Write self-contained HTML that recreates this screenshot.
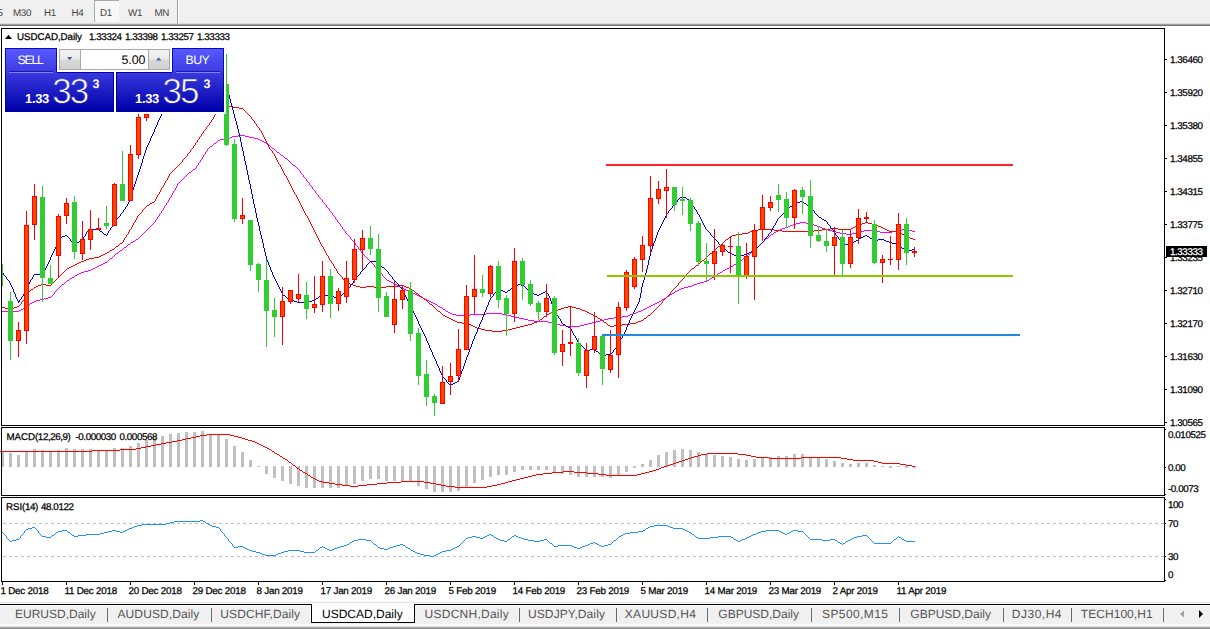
<!DOCTYPE html>
<html><head><meta charset="utf-8"><title>USDCAD,Daily</title>
<style>
html,body{margin:0;padding:0;background:#fff;}
body{width:1210px;height:629px;position:relative;overflow:hidden;font-family:"Liberation Sans",sans-serif;font-size:9px;color:#000;text-rendering:geometricPrecision;}
.a{position:absolute;white-space:nowrap;line-height:1;}
.t{position:absolute;white-space:nowrap;line-height:10px;height:10px;font-size:9.8px;letter-spacing:-0.42px;-webkit-text-stroke:0.25px #000;}
.l{letter-spacing:-0.08px;}
.bk{position:absolute;background:#000;}
.tb{position:absolute;top:0;height:24px;line-height:27px;font-size:9.8px;letter-spacing:-0.3px;color:#444;white-space:nowrap;}
.tab{position:absolute;top:608px;font-size:12px;line-height:13px;color:#555;white-space:nowrap;}
.sep{position:absolute;top:608px;width:1px;height:14px;background:#6a6a6a;}
.ax{position:absolute;left:1170px;font-size:9.8px;line-height:10px;height:10px;white-space:nowrap;letter-spacing:-0.42px;-webkit-text-stroke:0.25px #000;}
.tk{position:absolute;left:1165px;width:2px;height:1px;background:#000;}
</style></head><body>

<div class="a" style="left:0;top:0;width:1210px;height:24px;background:#f0f0f0"></div>
<div class="a" style="left:0;top:23px;width:1210px;height:1px;background:#dcdcdc"></div>
<div class="a" style="left:0;top:24px;width:1210px;height:1px;background:#a0a0a0"></div>
<div class="a" style="left:0;top:25px;width:1210px;height:1px;background:#707070"></div>
<div class="a" style="left:94px;top:0;width:25px;height:22px;background:repeating-conic-gradient(#ffffff 0% 25%, #f0f0f0 0% 50%) 0 0/2px 2px;border-left:1px solid #a8a8a8;border-top:1px solid #a8a8a8;box-sizing:border-box"></div>
<div class="a" style="left:177px;top:0;width:1px;height:24px;background:#a0a0a0"></div><div class="a" style="left:178px;top:0;width:1px;height:24px;background:#fff"></div>
<div class="tb" style="left:-2.5px">5</div>
<div class="tb" style="left:13.0px">M30</div>
<div class="tb" style="left:44.0px">H1</div>
<div class="tb" style="left:71.5px">H4</div>
<div class="tb" style="left:100.0px">D1</div>
<div class="tb" style="left:128.0px">W1</div>
<div class="tb" style="left:154.5px">MN</div>
<svg width="1164" height="629" viewBox="0 0 1164 629" style="position:absolute;left:0;top:0">
<path d="M147 229h1v1h-1zM343 229h1v1h-1zM780 229h2v1h-2zM825 229h3v1h-3zM902 229h6v1h-6zM59 287h1v1h-1zM400 287h2v1h-2zM684 287h4v1h-4zM95 267h2v1h-2zM375 267h1v1h-1zM729 267h2v1h-2zM160 213h1v1h-1zM332 213h1v1h-1zM238 135h7v1h-7zM456 315h14v1h-14zM507 315h4v1h-4zM628 315h2v1h-2zM151 225h1v1h-1zM340 225h1v1h-1zM790 225h3v1h-3zM814 225h3v1h-3zM144 232h1v1h-1zM345 232h1v1h-1zM774 232h2v1h-2zM836 232h4v1h-4zM856 232h4v1h-4zM880 232h12v1h-12zM124 247h2v1h-2zM358 247h1v1h-1zM757 247h1v1h-1zM115 254h1v1h-1zM363 254h1v1h-1zM748 254h2v1h-2zM110 258h2v1h-2zM367 258h1v1h-1zM743 258h1v1h-1zM143 233h1v1h-1zM346 233h1v1h-1zM773 233h1v1h-1zM840 233h6v1h-6zM852 233h4v1h-4zM136 239h2v1h-2zM351 239h1v1h-1zM765 239h1v1h-1zM93 268h2v1h-2zM376 268h1v1h-1zM727 268h2v1h-2zM157 217h1v1h-1zM335 217h1v1h-1zM156 219h1v1h-1zM336 219h1v1h-1zM119 251h1v1h-1zM361 251h1v1h-1zM752 251h2v1h-2zM114 255h1v1h-1zM364 255h1v1h-1zM747 255h1v1h-1zM560 325h6v1h-6zM580 325h4v1h-4zM232 136h6v1h-6zM245 136h4v1h-4zM142 234h1v1h-1zM347 234h1v1h-1zM771 234h2v1h-2zM846 234h6v1h-6zM65 282h1v1h-1zM391 282h2v1h-2zM700 282h4v1h-4zM118 252h1v1h-1zM361 252h1v1h-1zM751 252h1v1h-1zM53 294h1v1h-1zM415 294h2v1h-2zM670 294h2v1h-2zM107 261h1v1h-1zM370 261h1v1h-1zM739 261h1v1h-1zM153 223h1v1h-1zM339 223h1v1h-1zM796 223h4v1h-4zM806 223h6v1h-6zM40 299h4v1h-4zM425 299h2v1h-2zM662 299h2v1h-2zM103 263h2v1h-2zM372 263h1v1h-1zM736 263h2v1h-2zM534 321h14v1h-14zM596 321h4v1h-4zM452 314h4v1h-4zM470 314h16v1h-16zM502 314h5v1h-5zM630 314h3v1h-3zM209 147h1v1h-1zM271 147h1v1h-1zM515 317h4v1h-4zM614 317h8v1h-8zM169 199h1v1h-1zM321 199h1v1h-1zM36 300h4v1h-4zM427 300h2v1h-2zM661 300h1v1h-1zM177 185h1v1h-1zM310 185h1v1h-1zM55 291h1v1h-1zM409 291h2v1h-2zM675 291h2v1h-2zM51 296h1v1h-1zM419 296h2v1h-2zM667 296h2v1h-2zM548 322h4v1h-4zM592 322h4v1h-4zM552 323h4v1h-4zM588 323h4v1h-4zM2 311h17v1h-17zM446 311h2v1h-2zM638 311h3v1h-3zM220 139h4v1h-4zM258 139h2v1h-2zM192 170h1v1h-1zM299 170h1v1h-1zM81 272h3v1h-3zM380 272h1v1h-1zM720 272h2v1h-2zM126 246h1v1h-1zM357 246h1v1h-1zM758 246h1v1h-1zM193 169h2v1h-2zM298 169h1v1h-1zM450 313h2v1h-2zM486 313h16v1h-16zM633 313h3v1h-3zM157 218h1v1h-1zM335 218h1v1h-1zM146 230h1v1h-1zM344 230h1v1h-1zM778 230h2v1h-2zM828 230h4v1h-4zM864 230h12v1h-12zM896 230h6v1h-6zM908 230h4v1h-4zM72 277h2v1h-2zM384 277h1v1h-1zM712 277h2v1h-2zM196 167h1v1h-1zM296 167h1v1h-1zM123 248h1v1h-1zM358 248h1v1h-1zM756 248h1v1h-1zM23 308h2v1h-2zM442 308h1v1h-1zM645 308h2v1h-2zM44 298h4v1h-4zM423 298h2v1h-2zM664 298h2v1h-2zM145 231h1v1h-1zM345 231h1v1h-1zM776 231h2v1h-2zM832 231h4v1h-4zM860 231h4v1h-4zM876 231h4v1h-4zM892 231h4v1h-4zM912 231h3v1h-3zM128 244h2v1h-2zM355 244h1v1h-1zM760 244h1v1h-1zM173 192h1v1h-1zM315 192h1v1h-1zM91 269h2v1h-2zM377 269h1v1h-1zM725 269h2v1h-2zM566 326h14v1h-14zM77 274h2v1h-2zM382 274h1v1h-1zM717 274h1v1h-1zM21 309h2v1h-2zM443 309h2v1h-2zM643 309h2v1h-2zM148 228h1v1h-1zM342 228h1v1h-1zM782 228h3v1h-3zM822 228h3v1h-3zM74 276h1v1h-1zM383 276h1v1h-1zM714 276h1v1h-1zM133 241h2v1h-2zM353 241h1v1h-1zM763 241h1v1h-1zM88 270h3v1h-3zM378 270h1v1h-1zM723 270h2v1h-2zM528 320h6v1h-6zM600 320h4v1h-4zM200 160h1v1h-1zM288 160h1v1h-1zM29 304h1v1h-1zM435 304h2v1h-2zM653 304h2v1h-2zM203 156h1v1h-1zM283 156h1v1h-1zM150 226h1v1h-1zM341 226h1v1h-1zM788 226h2v1h-2zM817 226h3v1h-3zM122 249h1v1h-1zM359 249h1v1h-1zM755 249h1v1h-1zM61 285h1v1h-1zM397 285h1v1h-1zM692 285h2v1h-2zM34 301h2v1h-2zM429 301h2v1h-2zM659 301h2v1h-2zM524 319h4v1h-4zM604 319h4v1h-4zM138 238h1v1h-1zM350 238h1v1h-1zM766 238h2v1h-2zM208 148h1v1h-1zM272 148h2v1h-2zM519 318h5v1h-5zM608 318h6v1h-6zM32 302h2v1h-2zM431 302h2v1h-2zM657 302h2v1h-2zM70 278h2v1h-2zM385 278h1v1h-1zM710 278h2v1h-2zM64 283h1v1h-1zM393 283h2v1h-2zM697 283h3v1h-3zM152 224h1v1h-1zM340 224h1v1h-1zM793 224h3v1h-3zM812 224h2v1h-2zM166 203h1v1h-1zM324 203h1v1h-1zM210 146h2v1h-2zM270 146h1v1h-1zM75 275h2v1h-2zM382 275h1v1h-1zM715 275h2v1h-2zM69 279h1v1h-1zM386 279h1v1h-1zM709 279h1v1h-1zM62 284h2v1h-2zM395 284h2v1h-2zM694 284h3v1h-3zM214 143h2v1h-2zM266 143h1v1h-1zM201 159h1v1h-1zM287 159h1v1h-1zM196 166h1v1h-1zM295 166h1v1h-1zM178 183h1v1h-1zM309 183h1v1h-1zM448 312h2v1h-2zM636 312h2v1h-2zM66 281h1v1h-1zM389 281h2v1h-2zM704 281h3v1h-3zM230 137h2v1h-2zM249 137h5v1h-5zM175 188h1v1h-1zM312 188h1v1h-1zM58 288h1v1h-1zM402 288h2v1h-2zM681 288h3v1h-3zM57 289h1v1h-1zM404 289h2v1h-2zM679 289h2v1h-2zM141 235h1v1h-1zM348 235h1v1h-1zM770 235h1v1h-1zM175 189h1v1h-1zM313 189h1v1h-1zM180 181h1v1h-1zM307 181h1v1h-1zM167 202h1v1h-1zM323 202h1v1h-1zM203 155h1v1h-1zM281 155h2v1h-2zM30 303h2v1h-2zM433 303h2v1h-2zM655 303h2v1h-2zM97 266h2v1h-2zM374 266h1v1h-1zM731 266h2v1h-2zM139 237h1v1h-1zM350 237h1v1h-1zM768 237h1v1h-1zM26 306h2v1h-2zM438 306h2v1h-2zM649 306h2v1h-2zM28 305h1v1h-1zM437 305h1v1h-1zM651 305h2v1h-2zM154 222h1v1h-1zM338 222h1v1h-1zM800 222h6v1h-6zM120 250h2v1h-2zM360 250h1v1h-1zM754 250h1v1h-1zM556 324h4v1h-4zM584 324h4v1h-4zM199 162h1v1h-1zM290 162h1v1h-1zM218 140h2v1h-2zM260 140h2v1h-2zM158 216h1v1h-1zM334 216h1v1h-1zM101 264h2v1h-2zM373 264h1v1h-1zM734 264h2v1h-2zM213 144h1v1h-1zM267 144h2v1h-2zM187 174h1v1h-1zM302 174h1v1h-1zM511 316h4v1h-4zM622 316h6v1h-6zM56 290h1v1h-1zM406 290h3v1h-3zM677 290h2v1h-2zM54 292h1v1h-1zM411 292h2v1h-2zM674 292h1v1h-1zM163 208h1v1h-1zM328 208h1v1h-1zM206 151h1v1h-1zM276 151h1v1h-1zM176 187h1v1h-1zM312 187h1v1h-1zM140 236h1v1h-1zM349 236h1v1h-1zM769 236h1v1h-1zM84 271h4v1h-4zM379 271h1v1h-1zM722 271h1v1h-1zM191 171h1v1h-1zM300 171h1v1h-1zM99 265h2v1h-2zM374 265h1v1h-1zM733 265h1v1h-1zM197 165h1v1h-1zM293 165h2v1h-2zM60 286h1v1h-1zM398 286h2v1h-2zM688 286h4v1h-4zM159 215h1v1h-1zM333 215h1v1h-1zM202 158h1v1h-1zM285 158h2v1h-2zM216 142h1v1h-1zM264 142h2v1h-2zM116 253h2v1h-2zM362 253h1v1h-1zM750 253h1v1h-1zM224 138h6v1h-6zM254 138h4v1h-4zM189 172h2v1h-2zM300 172h1v1h-1zM105 262h2v1h-2zM371 262h1v1h-1zM738 262h1v1h-1zM155 221h1v1h-1zM337 221h1v1h-1zM25 307h1v1h-1zM440 307h2v1h-2zM647 307h2v1h-2zM149 227h1v1h-1zM342 227h1v1h-1zM785 227h3v1h-3zM820 227h2v1h-2zM164 207h1v1h-1zM327 207h1v1h-1zM188 173h1v1h-1zM301 173h1v1h-1zM109 259h1v1h-1zM368 259h1v1h-1zM742 259h1v1h-1zM48 297h3v1h-3zM421 297h2v1h-2zM666 297h1v1h-1zM67 280h2v1h-2zM387 280h2v1h-2zM707 280h2v1h-2zM172 193h1v1h-1zM316 193h1v1h-1zM168 200h1v1h-1zM322 200h1v1h-1zM195 168h1v1h-1zM297 168h1v1h-1zM198 164h1v1h-1zM292 164h1v1h-1zM217 141h1v1h-1zM262 141h2v1h-2zM131 242h2v1h-2zM354 242h1v1h-1zM762 242h1v1h-1zM164 206h1v1h-1zM326 206h1v1h-1zM159 214h1v1h-1zM332 214h1v1h-1zM182 179h1v1h-1zM306 179h1v1h-1zM202 157h1v1h-1zM284 157h1v1h-1zM19 310h2v1h-2zM445 310h1v1h-1zM641 310h2v1h-2zM155 220h1v1h-1zM337 220h1v1h-1zM205 152h1v1h-1zM277 152h2v1h-2zM200 161h1v1h-1zM289 161h1v1h-1zM174 190h1v1h-1zM314 190h1v1h-1zM173 191h1v1h-1zM315 191h1v1h-1zM162 210h1v1h-1zM329 210h1v1h-1zM185 176h1v1h-1zM303 176h1v1h-1zM207 149h1v1h-1zM274 149h1v1h-1zM184 177h1v1h-1zM304 177h1v1h-1zM205 153h1v1h-1zM279 153h1v1h-1zM108 260h1v1h-1zM369 260h1v1h-1zM740 260h2v1h-2zM113 256h1v1h-1zM365 256h1v1h-1zM746 256h1v1h-1zM177 184h1v1h-1zM309 184h1v1h-1zM166 204h1v1h-1zM325 204h1v1h-1zM54 293h1v1h-1zM413 293h2v1h-2zM672 293h2v1h-2zM165 205h1v1h-1zM326 205h1v1h-1zM186 175h1v1h-1zM303 175h1v1h-1zM79 273h2v1h-2zM381 273h1v1h-1zM718 273h2v1h-2zM169 198h1v1h-1zM320 198h1v1h-1zM172 194h1v1h-1zM317 194h1v1h-1zM212 145h1v1h-1zM269 145h1v1h-1zM171 196h1v1h-1zM318 196h1v1h-1zM161 212h1v1h-1zM331 212h1v1h-1zM130 243h1v1h-1zM355 243h1v1h-1zM761 243h1v1h-1zM168 201h1v1h-1zM322 201h1v1h-1zM52 295h1v1h-1zM417 295h2v1h-2zM669 295h1v1h-1zM181 180h1v1h-1zM306 180h1v1h-1zM135 240h1v1h-1zM352 240h1v1h-1zM764 240h1v1h-1zM161 211h1v1h-1zM330 211h1v1h-1zM112 257h1v1h-1zM366 257h1v1h-1zM744 257h2v1h-2zM204 154h1v1h-1zM280 154h1v1h-1zM198 163h1v1h-1zM291 163h1v1h-1zM176 186h1v1h-1zM311 186h1v1h-1zM179 182h1v1h-1zM308 182h1v1h-1zM183 178h1v1h-1zM305 178h1v1h-1zM170 197h1v1h-1zM319 197h1v1h-1zM207 150h1v1h-1zM275 150h1v1h-1zM127 245h1v1h-1zM356 245h1v1h-1zM759 245h1v1h-1zM171 195h1v1h-1zM318 195h1v1h-1zM163 209h1v1h-1zM329 209h1v1h-1z" fill="#ff00ff" shape-rendering="crispEdges"/>
<path d="M34 287h2v1h-2zM360 287h6v1h-6zM374 287h12v1h-12zM406 287h3v1h-3zM675 287h1v1h-1zM36 286h2v1h-2zM356 286h4v1h-4zM366 286h8v1h-8zM386 286h12v1h-12zM404 286h2v1h-2zM676 286h1v1h-1zM170 173h1v1h-1zM284 173h1v1h-1zM471 325h2v1h-2zM524 325h4v1h-4zM608 325h2v1h-2zM614 325h8v1h-8zM139 214h1v1h-1zM305 214h1v1h-1zM130 229h1v1h-1zM313 229h1v1h-1zM758 229h16v1h-16zM822 229h8v1h-8zM838 229h13v1h-13zM885 229h2v1h-2zM485 330h7v1h-7zM502 330h6v1h-6zM128 233h1v1h-1zM315 233h1v1h-1zM742 233h6v1h-6zM901 233h1v1h-1zM144 208h1v1h-1zM302 208h1v1h-1zM75 264h2v1h-2zM333 264h1v1h-1zM698 264h1v1h-1zM28 293h1v1h-1zM416 293h2v1h-2zM670 293h1v1h-1zM60 275h1v1h-1zM340 275h1v1h-1zM686 275h1v1h-1zM196 142h1v1h-1zM266 142h1v1h-1zM21 302h1v1h-1zM428 302h1v1h-1zM662 302h1v1h-1zM449 318h2v1h-2zM542 318h1v1h-1zM598 318h2v1h-2zM644 318h2v1h-2zM84 260h2v1h-2zM330 260h1v1h-1zM702 260h2v1h-2zM193 147h1v1h-1zM269 147h1v1h-1zM129 230h1v1h-1zM314 230h1v1h-1zM753 230h5v1h-5zM774 230h8v1h-8zM814 230h8v1h-8zM887 230h2v1h-2zM173 170h1v1h-1zM282 170h1v1h-1zM129 231h1v1h-1zM314 231h1v1h-1zM750 231h3v1h-3zM782 231h32v1h-32zM889 231h10v1h-10zM30 290h1v1h-1zM412 290h2v1h-2zM672 290h1v1h-1zM213 117h1v1h-1zM251 117h1v1h-1zM142 210h1v1h-1zM303 210h1v1h-1zM438 311h2v1h-2zM553 311h3v1h-3zM585 311h2v1h-2zM653 311h1v1h-1zM107 252h2v1h-2zM325 252h1v1h-1zM712 252h1v1h-1zM101 255h2v1h-2zM327 255h1v1h-1zM708 255h1v1h-1zM445 316h2v1h-2zM544 316h2v1h-2zM595 316h2v1h-2zM647 316h1v1h-1zM124 239h1v1h-1zM318 239h1v1h-1zM726 239h2v1h-2zM913 239h2v1h-2zM201 134h1v1h-1zM262 134h1v1h-1zM455 321h2v1h-2zM537 321h2v1h-2zM603 321h1v1h-1zM638 321h3v1h-3zM38 285h3v1h-3zM46 285h5v1h-5zM353 285h3v1h-3zM398 285h6v1h-6zM677 285h1v1h-1zM209 123h1v1h-1zM255 123h1v1h-1zM120 243h2v1h-2zM320 243h1v1h-1zM722 243h1v1h-1zM2 307h3v1h-3zM14 307h3v1h-3zM434 307h1v1h-1zM564 307h4v1h-4zM572 307h4v1h-4zM657 307h1v1h-1zM441 313h1v1h-1zM549 313h2v1h-2zM589 313h2v1h-2zM651 313h1v1h-1zM41 284h5v1h-5zM51 284h1v1h-1zM350 284h3v1h-3zM678 284h1v1h-1zM126 236h1v1h-1zM317 236h1v1h-1zM730 236h2v1h-2zM906 236h2v1h-2zM26 296h1v1h-1zM420 296h2v1h-2zM667 296h1v1h-1zM137 216h1v1h-1zM307 216h1v1h-1zM89 258h5v1h-5zM329 258h1v1h-1zM705 258h1v1h-1zM54 281h1v1h-1zM345 281h1v1h-1zM680 281h1v1h-1zM122 242h1v1h-1zM320 242h1v1h-1zM723 242h1v1h-1zM5 308h9v1h-9zM435 308h1v1h-1zM561 308h3v1h-3zM576 308h4v1h-4zM656 308h1v1h-1zM167 178h1v1h-1zM287 178h1v1h-1zM126 235h1v1h-1zM316 235h1v1h-1zM732 235h4v1h-4zM904 235h2v1h-2zM136 219h1v1h-1zM308 219h1v1h-1zM457 322h5v1h-5zM534 322h3v1h-3zM604 322h2v1h-2zM636 322h2v1h-2zM177 166h1v1h-1zM280 166h1v1h-1zM185 157h1v1h-1zM275 157h1v1h-1zM209 124h1v1h-1zM256 124h1v1h-1zM127 234h1v1h-1zM316 234h1v1h-1zM736 234h6v1h-6zM902 234h2v1h-2zM135 220h1v1h-1zM309 220h1v1h-1zM132 226h1v1h-1zM312 226h1v1h-1zM855 226h2v1h-2zM878 226h3v1h-3zM197 140h1v1h-1zM265 140h1v1h-1zM133 223h1v1h-1zM310 223h1v1h-1zM862 223h3v1h-3zM868 223h4v1h-4zM440 312h1v1h-1zM551 312h2v1h-2zM587 312h2v1h-2zM652 312h1v1h-1zM105 253h2v1h-2zM326 253h1v1h-1zM710 253h2v1h-2zM52 283h1v1h-1zM348 283h2v1h-2zM678 283h1v1h-1zM125 237h1v1h-1zM317 237h1v1h-1zM729 237h1v1h-1zM908 237h2v1h-2zM210 122h1v1h-1zM254 122h1v1h-1zM71 266h2v1h-2zM334 266h1v1h-1zM695 266h1v1h-1zM453 320h2v1h-2zM539 320h1v1h-1zM602 320h1v1h-1zM641 320h2v1h-2zM140 213h1v1h-1zM305 213h1v1h-1zM188 153h1v1h-1zM273 153h1v1h-1zM99 256h2v1h-2zM328 256h1v1h-1zM707 256h1v1h-1zM204 130h1v1h-1zM260 130h1v1h-1zM103 254h2v1h-2zM326 254h1v1h-1zM709 254h1v1h-1zM69 267h2v1h-2zM334 267h1v1h-1zM694 267h1v1h-1zM462 323h6v1h-6zM532 323h2v1h-2zM606 323h1v1h-1zM630 323h6v1h-6zM145 207h1v1h-1zM302 207h1v1h-1zM216 113h1v1h-1zM247 113h1v1h-1zM443 315h2v1h-2zM546 315h1v1h-1zM593 315h2v1h-2zM648 315h2v1h-2zM114 248h1v1h-1zM323 248h1v1h-1zM716 248h1v1h-1zM55 280h1v1h-1zM344 280h1v1h-1zM681 280h1v1h-1zM33 288h1v1h-1zM409 288h2v1h-2zM674 288h1v1h-1zM65 270h1v1h-1zM336 270h1v1h-1zM690 270h1v1h-1zM220 110h1v1h-1zM244 110h1v1h-1zM64 271h1v1h-1zM337 271h1v1h-1zM689 271h1v1h-1zM477 328h4v1h-4zM512 328h4v1h-4zM25 298h1v1h-1zM423 298h1v1h-1zM665 298h1v1h-1zM123 241h1v1h-1zM319 241h1v1h-1zM724 241h1v1h-1zM492 331h10v1h-10zM475 327h2v1h-2zM516 327h4v1h-4zM112 249h2v1h-2zM324 249h1v1h-1zM715 249h1v1h-1zM131 228h1v1h-1zM313 228h1v1h-1zM830 228h8v1h-8zM851 228h2v1h-2zM883 228h2v1h-2zM224 107h4v1h-4zM233 107h6v1h-6zM124 238h1v1h-1zM318 238h1v1h-1zM728 238h1v1h-1zM910 238h3v1h-3zM81 261h3v1h-3zM331 261h1v1h-1zM701 261h1v1h-1zM134 222h1v1h-1zM310 222h1v1h-1zM865 222h3v1h-3zM468 324h3v1h-3zM528 324h4v1h-4zM607 324h1v1h-1zM622 324h8v1h-8zM24 299h1v1h-1zM424 299h2v1h-2zM664 299h1v1h-1zM436 309h1v1h-1zM558 309h3v1h-3zM580 309h2v1h-2zM655 309h1v1h-1zM172 171h1v1h-1zM283 171h1v1h-1zM62 273h1v1h-1zM338 273h1v1h-1zM687 273h1v1h-1zM168 176h1v1h-1zM286 176h1v1h-1zM29 291h1v1h-1zM414 291h1v1h-1zM671 291h1v1h-1zM442 314h1v1h-1zM547 314h2v1h-2zM591 314h2v1h-2zM650 314h1v1h-1zM473 326h2v1h-2zM520 326h4v1h-4zM610 326h4v1h-4zM183 159h1v1h-1zM276 159h1v1h-1zM437 310h1v1h-1zM556 310h2v1h-2zM582 310h3v1h-3zM654 310h1v1h-1zM179 164h1v1h-1zM279 164h1v1h-1zM19 305h1v1h-1zM432 305h1v1h-1zM659 305h1v1h-1zM136 218h1v1h-1zM308 218h1v1h-1zM194 145h1v1h-1zM268 145h1v1h-1zM110 250h2v1h-2zM324 250h1v1h-1zM714 250h1v1h-1zM56 279h1v1h-1zM343 279h1v1h-1zM682 279h1v1h-1zM86 259h3v1h-3zM329 259h1v1h-1zM704 259h1v1h-1zM189 152h1v1h-1zM272 152h1v1h-1zM63 272h1v1h-1zM337 272h1v1h-1zM688 272h1v1h-1zM67 268h2v1h-2zM335 268h1v1h-1zM692 268h2v1h-2zM211 120h1v1h-1zM253 120h1v1h-1zM146 206h1v1h-1zM301 206h1v1h-1zM180 163h1v1h-1zM278 163h1v1h-1zM73 265h2v1h-2zM333 265h1v1h-1zM696 265h2v1h-2zM211 121h1v1h-1zM254 121h1v1h-1zM481 329h4v1h-4zM508 329h4v1h-4zM198 139h1v1h-1zM265 139h1v1h-1zM128 232h1v1h-1zM315 232h1v1h-1zM748 232h2v1h-2zM899 232h2v1h-2zM94 257h5v1h-5zM328 257h1v1h-1zM706 257h1v1h-1zM133 224h1v1h-1zM311 224h1v1h-1zM860 224h2v1h-2zM872 224h4v1h-4zM116 246h2v1h-2zM322 246h1v1h-1zM718 246h2v1h-2zM20 304h1v1h-1zM430 304h2v1h-2zM660 304h1v1h-1zM109 251h1v1h-1zM325 251h1v1h-1zM713 251h1v1h-1zM132 225h1v1h-1zM311 225h1v1h-1zM857 225h3v1h-3zM876 225h2v1h-2zM77 263h2v1h-2zM332 263h1v1h-1zM699 263h1v1h-1zM141 212h1v1h-1zM304 212h1v1h-1zM191 149h1v1h-1zM270 149h1v1h-1zM174 169h1v1h-1zM282 169h1v1h-1zM22 301h1v1h-1zM427 301h1v1h-1zM662 301h1v1h-1zM200 136h1v1h-1zM263 136h1v1h-1zM203 132h1v1h-1zM261 132h1v1h-1zM217 112h1v1h-1zM246 112h1v1h-1zM195 144h1v1h-1zM267 144h1v1h-1zM212 119h1v1h-1zM252 119h1v1h-1zM142 211h1v1h-1zM304 211h1v1h-1zM199 138h1v1h-1zM264 138h1v1h-1zM184 158h1v1h-1zM276 158h1v1h-1zM207 126h1v1h-1zM257 126h1v1h-1zM27 295h1v1h-1zM419 295h1v1h-1zM668 295h1v1h-1zM149 204h1v1h-1zM300 204h1v1h-1zM123 240h1v1h-1zM319 240h1v1h-1zM725 240h1v1h-1zM451 319h2v1h-2zM540 319h2v1h-2zM600 319h2v1h-2zM643 319h1v1h-1zM160 191h1v1h-1zM293 191h1v1h-1zM131 227h1v1h-1zM312 227h1v1h-1zM853 227h2v1h-2zM881 227h2v1h-2zM163 185h1v1h-1zM290 185h1v1h-1zM147 205h2v1h-2zM301 205h1v1h-1zM447 317h2v1h-2zM543 317h1v1h-1zM597 317h1v1h-1zM646 317h1v1h-1zM175 168h1v1h-1zM281 168h1v1h-1zM181 162h1v1h-1zM278 162h1v1h-1zM176 167h1v1h-1zM281 167h1v1h-1zM152 202h2v1h-2zM299 202h1v1h-1zM190 150h1v1h-1zM271 150h1v1h-1zM222 108h2v1h-2zM239 108h4v1h-4zM187 155h1v1h-1zM274 155h1v1h-1zM17 306h2v1h-2zM433 306h1v1h-1zM568 306h4v1h-4zM658 306h1v1h-1zM143 209h1v1h-1zM303 209h1v1h-1zM203 131h1v1h-1zM261 131h1v1h-1zM115 247h1v1h-1zM323 247h1v1h-1zM717 247h1v1h-1zM159 192h1v1h-1zM294 192h1v1h-1zM195 143h1v1h-1zM267 143h1v1h-1zM186 156h1v1h-1zM275 156h1v1h-1zM215 114h1v1h-1zM248 114h1v1h-1zM25 297h1v1h-1zM422 297h1v1h-1zM666 297h1v1h-1zM199 137h1v1h-1zM264 137h1v1h-1zM66 269h1v1h-1zM336 269h1v1h-1zM691 269h1v1h-1zM31 289h2v1h-2zM411 289h1v1h-1zM673 289h1v1h-1zM156 198h1v1h-1zM297 198h1v1h-1zM150 203h2v1h-2zM300 203h1v1h-1zM21 303h1v1h-1zM429 303h1v1h-1zM661 303h1v1h-1zM155 199h1v1h-1zM298 199h1v1h-1zM118 245h1v1h-1zM321 245h1v1h-1zM720 245h1v1h-1zM182 161h1v1h-1zM277 161h1v1h-1zM28 292h1v1h-1zM415 292h1v1h-1zM670 292h1v1h-1zM182 160h1v1h-1zM277 160h1v1h-1zM27 294h1v1h-1zM418 294h1v1h-1zM669 294h1v1h-1zM206 127h1v1h-1zM258 127h1v1h-1zM119 244h1v1h-1zM321 244h1v1h-1zM721 244h1v1h-1zM57 278h1v1h-1zM342 278h1v1h-1zM683 278h1v1h-1zM218 111h2v1h-2zM245 111h1v1h-1zM187 154h1v1h-1zM274 154h1v1h-1zM61 274h1v1h-1zM339 274h1v1h-1zM686 274h1v1h-1zM190 151h1v1h-1zM272 151h1v1h-1zM157 196h1v1h-1zM296 196h1v1h-1zM228 106h5v1h-5zM53 282h1v1h-1zM346 282h2v1h-2zM679 282h1v1h-1zM58 277h1v1h-1zM342 277h1v1h-1zM684 277h1v1h-1zM166 180h1v1h-1zM288 180h1v1h-1zM158 194h1v1h-1zM295 194h1v1h-1zM197 141h1v1h-1zM266 141h1v1h-1zM79 262h2v1h-2zM331 262h1v1h-1zM700 262h1v1h-1zM155 200h1v1h-1zM298 200h1v1h-1zM205 129h1v1h-1zM259 129h1v1h-1zM162 187h1v1h-1zM291 187h1v1h-1zM154 201h1v1h-1zM299 201h1v1h-1zM201 135h1v1h-1zM263 135h1v1h-1zM161 189h1v1h-1zM292 189h1v1h-1zM202 133h1v1h-1zM262 133h1v1h-1zM214 116h1v1h-1zM250 116h1v1h-1zM178 165h1v1h-1zM280 165h1v1h-1zM159 193h1v1h-1zM294 193h1v1h-1zM193 146h1v1h-1zM268 146h1v1h-1zM206 128h1v1h-1zM259 128h1v1h-1zM165 182h1v1h-1zM289 182h1v1h-1zM169 175h1v1h-1zM285 175h1v1h-1zM138 215h1v1h-1zM306 215h1v1h-1zM208 125h1v1h-1zM256 125h1v1h-1zM165 181h1v1h-1zM288 181h1v1h-1zM59 276h1v1h-1zM341 276h1v1h-1zM685 276h1v1h-1zM221 109h1v1h-1zM243 109h1v1h-1zM169 174h1v1h-1zM284 174h1v1h-1zM161 188h1v1h-1zM292 188h1v1h-1zM23 300h1v1h-1zM426 300h1v1h-1zM663 300h1v1h-1zM160 190h1v1h-1zM293 190h1v1h-1zM168 177h1v1h-1zM286 177h1v1h-1zM137 217h1v1h-1zM307 217h1v1h-1zM157 195h1v1h-1zM296 195h1v1h-1zM164 184h1v1h-1zM290 184h1v1h-1zM192 148h1v1h-1zM269 148h1v1h-1zM156 197h1v1h-1zM297 197h1v1h-1zM164 183h1v1h-1zM289 183h1v1h-1zM171 172h1v1h-1zM283 172h1v1h-1zM214 115h1v1h-1zM249 115h1v1h-1zM163 186h1v1h-1zM291 186h1v1h-1zM167 179h1v1h-1zM287 179h1v1h-1zM135 221h1v1h-1zM309 221h1v1h-1zM213 118h1v1h-1zM251 118h1v1h-1z" fill="#ff0000" shape-rendering="crispEdges"/>
<path d="M48 262h1v2h-1zM94 229h1v1h-1zM49 260h1v2h-1zM121 213h1v1h-1zM78 242h1v1h-1zM123 210h1v2h-1zM11 285h1v2h-1zM83 237h1v2h-1zM133 187h1v3h-1zM138 172h1v3h-1zM150 138h1v3h-1zM169 97h1v2h-1zM98 229h1v1h-1zM170 95h1v2h-1zM75 243h1v1h-1zM13 289h1v3h-1zM65 235h1v1h-1zM117 218h1v1h-1zM15 294h1v3h-1zM142 159h1v4h-1zM81 240h1v1h-1zM137 175h1v3h-1zM82 239h1v1h-1zM62 236h1v1h-1zM151 136h1v2h-1zM129 199h1v3h-1zM46 266h1v2h-1zM9 281h1v2h-1zM54 249h1v2h-1zM32 277h1v2h-1zM145 150h1v3h-1zM33 275h1v2h-1zM58 241h1v2h-1zM59 239h1v2h-1zM60 237h1v2h-1zM61 237h1v1h-1zM70 239h1v2h-1zM107 233h1v2h-1zM167 101h1v2h-1zM88 230h1v1h-1zM99 230h1v1h-1zM26 288h1v2h-1zM25 290h1v2h-1zM45 268h1v2h-1zM47 264h1v2h-1zM136 178h1v3h-1zM148 143h1v2h-1zM36 274h1v1h-1zM51 255h1v2h-1zM71 241h1v1h-1zM143 156h1v3h-1zM149 141h1v2h-1zM106 235h1v1h-1zM86 232h1v2h-1zM100 231h1v1h-1zM154 129h1v3h-1zM166 103h1v2h-1zM168 99h1v2h-1zM140 166h1v3h-1zM38 274h1v1h-1zM90 229h1v1h-1zM24 292h1v2h-1zM50 257h1v3h-1zM16 297h1v2h-1zM29 282h1v2h-1zM57 243h1v2h-1zM131 193h1v3h-1zM3 273h1v2h-1zM132 190h1v3h-1zM126 206h1v1h-1zM21 297h1v2h-1zM23 294h1v2h-1zM89 230h1v1h-1zM92 229h1v1h-1zM43 271h1v2h-1zM135 181h1v3h-1zM147 145h1v2h-1zM56 245h1v2h-1zM96 229h1v1h-1zM153 132h1v2h-1zM163 109h1v2h-1zM113 223h1v2h-1zM115 221h1v1h-1zM157 122h1v3h-1zM85 234h1v2h-1zM164 107h1v2h-1zM7 279h1v1h-1zM101 231h1v1h-1zM165 105h1v2h-1zM74 244h1v1h-1zM125 207h1v2h-1zM68 237h1v1h-1zM139 169h1v3h-1zM130 196h1v3h-1zM141 163h1v3h-1zM12 287h1v2h-1zM14 292h1v2h-1zM77 242h1v1h-1zM69 238h1v1h-1zM27 286h1v2h-1zM53 251h1v2h-1zM55 247h1v2h-1zM105 234h1v1h-1zM134 184h1v3h-1zM152 134h1v2h-1zM155 127h1v2h-1zM162 111h1v2h-1zM19 300h1v2h-1zM76 243h1v1h-1zM34 274h1v1h-1zM109 230h1v1h-1zM97 229h1v1h-1zM161 113h1v3h-1zM18 301h1v2h-1zM80 240h1v1h-1zM156 125h1v2h-1zM108 231h1v2h-1zM66 235h1v1h-1zM119 216h1v1h-1zM6 277h1v2h-1zM120 214h1v2h-1zM52 253h1v2h-1zM63 236h1v1h-1zM144 153h1v3h-1zM159 118h1v2h-1zM5 276h1v1h-1zM67 236h1v1h-1zM116 219h1v2h-1zM118 217h1v1h-1zM35 274h1v1h-1zM10 283h1v2h-1zM128 202h1v2h-1zM17 299h1v2h-1zM160 116h1v2h-1zM39 274h1v1h-1zM112 225h1v2h-1zM114 222h1v1h-1zM31 279h1v1h-1zM37 274h1v1h-1zM84 236h1v1h-1zM127 204h1v2h-1zM41 274h1v1h-1zM42 273h1v1h-1zM44 270h1v1h-1zM8 280h1v1h-1zM30 280h1v2h-1zM93 229h1v1h-1zM102 232h1v1h-1zM146 147h1v3h-1zM158 120h1v2h-1zM103 233h1v1h-1zM95 229h1v1h-1zM110 228h1v2h-1zM28 284h1v2h-1zM122 212h1v1h-1zM104 234h1v1h-1zM4 275h1v1h-1zM64 236h1v1h-1zM91 229h1v1h-1zM87 231h1v1h-1zM72 242h1v1h-1zM20 299h1v1h-1zM22 296h1v1h-1zM2 272h1v1h-1zM40 274h1v1h-1zM124 209h1v1h-1zM79 241h1v1h-1zM73 243h1v1h-1zM111 227h1v1h-1z" fill="#0000cd" shape-rendering="crispEdges"/>
<path d="M402 289h1v2h-1zM420 326h1v2h-1zM795 203h1v1h-1zM240 137h1v5h-1zM259 226h1v5h-1zM784 212h1v1h-1zM655 238h1v3h-1zM646 269h1v4h-1zM886 241h1v1h-1zM322 294h1v1h-1zM310 301h1v1h-1zM236 121h1v4h-1zM353 281h1v2h-1zM480 322h1v2h-1zM489 300h1v2h-1zM492 296h1v1h-1zM625 330h1v2h-1zM263 243h1v5h-1zM637 304h1v2h-1zM465 360h1v3h-1zM535 294h1v1h-1zM800 201h1v1h-1zM696 210h1v2h-1zM904 249h1v1h-1zM430 348h1v2h-1zM390 275h1v1h-1zM650 252h1v4h-1zM273 275h1v2h-1zM239 133h1v4h-1zM814 211h1v2h-1zM608 354h1v1h-1zM427 341h1v2h-1zM256 213h1v5h-1zM485 310h1v2h-1zM460 374h1v3h-1zM472 341h1v3h-1zM568 327h1v1h-1zM654 241h1v2h-1zM697 212h1v2h-1zM448 383h1v1h-1zM391 276h1v1h-1zM249 180h1v4h-1zM882 239h1v1h-1zM666 214h1v2h-1zM538 295h1v1h-1zM803 202h1v1h-1zM905 250h1v1h-1zM464 363h1v3h-1zM488 302h1v3h-1zM405 295h1v2h-1zM621 338h1v1h-1zM361 271h1v1h-1zM776 221h1v2h-1zM804 203h1v1h-1zM508 290h1v1h-1zM531 292h1v1h-1zM633 312h1v2h-1zM255 208h1v5h-1zM226 83h1v3h-1zM468 352h1v3h-1zM836 235h1v1h-1zM582 346h1v1h-1zM649 256h1v4h-1zM246 165h1v5h-1zM229 95h1v4h-1zM837 236h1v1h-1zM685 197h1v1h-1zM512 287h1v1h-1zM756 248h1v1h-1zM477 329h1v3h-1zM459 377h1v3h-1zM748 253h1v1h-1zM248 175h1v5h-1zM653 243h1v3h-1zM553 306h1v3h-1zM885 240h1v1h-1zM356 277h1v2h-1zM641 287h1v6h-1zM662 222h1v2h-1zM419 324h1v2h-1zM456 382h1v1h-1zM232 106h1v4h-1zM383 267h1v1h-1zM617 345h1v2h-1zM266 256h1v4h-1zM329 296h1v1h-1zM772 228h1v2h-1zM866 235h1v1h-1zM844 244h1v1h-1zM242 147h1v4h-1zM632 314h1v2h-1zM476 332h1v2h-1zM527 289h1v1h-1zM867 236h1v1h-1zM262 239h1v4h-1zM452 384h1v1h-1zM272 272h1v3h-1zM550 298h1v3h-1zM692 204h1v2h-1zM700 217h1v2h-1zM889 242h1v1h-1zM416 317h1v2h-1zM711 235h1v1h-1zM252 194h1v5h-1zM802 201h1v1h-1zM661 224h1v2h-1zM779 217h1v1h-1zM408 301h1v2h-1zM371 261h1v1h-1zM265 252h1v4h-1zM736 255h1v1h-1zM768 234h1v2h-1zM258 222h1v4h-1zM437 364h1v2h-1zM640 293h1v5h-1zM718 242h1v2h-1zM737 256h1v1h-1zM404 293h1v2h-1zM484 312h1v3h-1zM729 252h1v1h-1zM847 244h1v1h-1zM899 245h1v1h-1zM352 283h1v1h-1zM763 241h1v1h-1zM657 232h1v3h-1zM648 260h1v5h-1zM645 273h1v4h-1zM908 250h1v1h-1zM775 223h1v2h-1zM900 246h1v1h-1zM291 300h1v1h-1zM434 357h1v2h-1zM467 355h1v2h-1zM552 304h1v2h-1zM245 161h1v4h-1zM228 91h1v4h-1zM305 302h1v1h-1zM821 218h1v1h-1zM564 324h1v1h-1zM238 129h1v4h-1zM677 200h1v2h-1zM733 254h1v1h-1zM744 254h1v1h-1zM526 288h1v1h-1zM862 237h1v1h-1zM893 243h1v1h-1zM518 284h1v1h-1zM429 345h1v3h-1zM665 216h1v2h-1zM241 142h1v5h-1zM294 301h1v1h-1zM286 297h1v1h-1zM813 210h1v1h-1zM710 233h1v2h-1zM487 305h1v2h-1zM340 295h1v1h-1zM620 339h1v2h-1zM360 272h1v2h-1zM306 302h1v1h-1zM287 298h1v1h-1zM644 277h1v3h-1zM699 215h1v2h-1zM771 230h1v2h-1zM877 240h1v1h-1zM825 220h1v1h-1zM519 284h1v1h-1zM786 210h1v1h-1zM426 338h1v3h-1zM500 289h1v1h-1zM332 296h1v1h-1zM378 263h1v1h-1zM394 280h1v1h-1zM669 210h1v1h-1zM290 299h1v1h-1zM479 324h1v3h-1zM604 355h1v1h-1zM436 361h1v3h-1zM596 351h1v1h-1zM624 332h1v2h-1zM400 287h1v1h-1zM379 264h1v1h-1zM636 306h1v2h-1zM717 241h1v1h-1zM616 347h1v1h-1zM317 298h1v1h-1zM739 256h1v1h-1zM401 288h1v1h-1zM783 213h1v1h-1zM251 189h1v5h-1zM475 334h1v2h-1zM680 197h1v1h-1zM231 103h1v3h-1zM374 261h1v1h-1zM433 355h1v2h-1zM463 366h1v3h-1zM611 353h1v1h-1zM592 349h1v1h-1zM244 156h1v5h-1zM227 86h1v5h-1zM627 325h1v2h-1zM858 239h1v1h-1zM639 298h1v4h-1zM235 118h1v3h-1zM415 315h1v2h-1zM514 286h1v1h-1zM850 244h1v1h-1zM652 246h1v3h-1zM698 214h1v1h-1zM344 292h1v1h-1zM725 249h1v1h-1zM545 291h1v1h-1zM758 246h1v1h-1zM483 315h1v2h-1zM458 380h1v2h-1zM656 235h1v3h-1zM854 241h1v1h-1zM577 340h1v2h-1zM393 279h1v1h-1zM234 114h1v4h-1zM297 302h1v1h-1zM440 371h1v2h-1zM515 286h1v1h-1zM462 369h1v2h-1zM496 291h1v1h-1zM507 291h1v1h-1zM835 233h1v2h-1zM672 206h1v2h-1zM454 383h1v1h-1zM532 293h1v1h-1zM466 357h1v3h-1zM798 202h1v1h-1zM817 215h1v1h-1zM355 279h1v1h-1zM838 237h1v2h-1zM261 235h1v4h-1zM435 359h1v2h-1zM237 125h1v4h-1zM755 249h1v1h-1zM321 295h1v1h-1zM254 204h1v4h-1zM522 285h1v1h-1zM839 239h1v1h-1zM313 300h1v1h-1zM282 293h1v2h-1zM491 297h1v1h-1zM494 293h1v1h-1zM418 321h1v3h-1zM267 260h1v2h-1zM471 344h1v3h-1zM347 289h1v2h-1zM687 199h1v1h-1zM350 285h1v2h-1zM283 295h1v1h-1zM551 301h1v3h-1zM300 302h1v1h-1zM709 232h1v1h-1zM474 336h1v3h-1zM660 226h1v2h-1zM363 269h1v1h-1zM385 269h1v1h-1zM647 265h1v4h-1zM809 206h1v1h-1zM896 244h1v1h-1zM816 214h1v1h-1zM271 270h1v2h-1zM623 334h1v2h-1zM541 293h1v1h-1zM324 295h1v1h-1zM247 170h1v5h-1zM230 99h1v4h-1zM573 333h1v2h-1zM428 343h1v2h-1zM864 236h1v1h-1zM338 297h1v1h-1zM358 275h1v1h-1zM250 184h1v5h-1zM264 248h1v4h-1zM482 317h1v3h-1zM450 385h1v1h-1zM719 244h1v1h-1zM257 218h1v4h-1zM790 206h1v1h-1zM631 316h1v2h-1zM308 301h1v1h-1zM643 280h1v3h-1zM842 244h1v1h-1zM243 151h1v5h-1zM762 242h1v1h-1zM260 231h1v4h-1zM403 291h1v2h-1zM486 307h1v3h-1zM619 341h1v2h-1zM720 245h1v1h-1zM774 225h1v1h-1zM253 199h1v5h-1zM498 290h1v1h-1zM432 352h1v3h-1zM281 291h1v2h-1zM584 348h1v1h-1zM614 349h1v1h-1zM651 249h1v3h-1zM417 319h1v2h-1zM606 354h1v1h-1zM880 239h1v1h-1zM366 265h1v2h-1zM323 294h1v1h-1zM565 325h1v1h-1zM781 215h1v1h-1zM315 299h1v1h-1zM642 283h1v4h-1zM778 218h1v1h-1zM566 326h1v1h-1zM461 371h1v3h-1zM536 294h1v1h-1zM442 375h1v2h-1zM668 211h1v2h-1zM528 290h1v1h-1zM319 296h1v1h-1zM770 232h1v1h-1zM906 251h1v1h-1zM414 313h1v2h-1zM392 277h1v2h-1zM233 110h1v4h-1zM588 350h1v1h-1zM607 354h1v1h-1zM845 244h1v1h-1zM411 307h1v2h-1zM270 267h1v3h-1zM443 377h1v1h-1zM548 294h1v2h-1zM529 291h1v1h-1zM569 327h1v1h-1zM712 236h1v1h-1zM827 222h1v2h-1zM342 294h1v1h-1zM742 255h1v1h-1zM860 238h1v1h-1zM871 238h1v1h-1zM326 295h1v1h-1zM490 298h1v2h-1zM765 238h1v1h-1zM303 302h1v1h-1zM583 347h1v1h-1zM425 336h1v2h-1zM852 243h1v1h-1zM626 327h1v3h-1zM346 291h1v1h-1zM872 239h1v1h-1zM883 239h1v1h-1zM913 249h1v1h-1zM664 218h1v2h-1zM841 242h1v2h-1zM555 311h1v2h-1zM558 316h1v2h-1zM676 202h1v1h-1zM679 198h1v1h-1zM381 266h1v1h-1zM473 339h1v2h-1zM327 295h1v1h-1zM517 285h1v1h-1zM875 240h1v1h-1zM384 268h1v1h-1zM509 290h1v1h-1zM278 285h1v2h-1zM788 208h1v1h-1zM887 241h1v1h-1zM753 250h1v1h-1zM513 287h1v1h-1zM671 208h1v1h-1zM674 204h1v1h-1zM734 255h1v1h-1zM311 301h1v1h-1zM902 248h1v1h-1zM757 247h1v1h-1zM801 201h1v1h-1zM481 320h1v2h-1zM576 338h1v2h-1zM630 318h1v2h-1zM439 368h1v3h-1zM470 347h1v2h-1zM609 354h1v1h-1zM410 305h1v2h-1zM349 287h1v1h-1zM826 221h1v1h-1zM730 253h1v1h-1zM856 240h1v1h-1zM890 242h1v1h-1zM395 281h1v1h-1zM590 349h1v1h-1zM613 350h1v2h-1zM659 228h1v2h-1zM840 240h1v2h-1zM424 334h1v2h-1zM561 321h1v2h-1zM365 267h1v1h-1zM543 292h1v1h-1zM901 247h1v1h-1zM554 309h1v2h-1zM504 291h1v1h-1zM629 320h1v3h-1zM822 219h1v1h-1zM469 349h1v3h-1zM760 244h1v1h-1zM304 302h1v1h-1zM505 292h1v1h-1zM539 294h1v1h-1zM792 205h1v1h-1zM601 354h1v1h-1zM277 283h1v2h-1zM749 252h1v1h-1zM441 373h1v2h-1zM431 350h1v2h-1zM330 296h1v1h-1zM413 311h1v2h-1zM909 250h1v1h-1zM796 202h1v1h-1zM785 211h1v1h-1zM602 355h1v1h-1zM868 236h1v1h-1zM572 331h1v2h-1zM501 290h1v1h-1zM357 276h1v1h-1zM575 336h1v2h-1zM493 294h1v2h-1zM295 301h1v1h-1zM830 226h1v2h-1zM380 265h1v1h-1zM372 261h1v1h-1zM897 244h1v1h-1zM288 298h1v1h-1zM557 315h1v1h-1zM269 265h1v2h-1zM298 302h1v1h-1zM423 332h1v2h-1zM520 284h1v1h-1zM878 239h1v1h-1zM333 296h1v1h-1zM280 289h1v2h-1zM598 352h1v1h-1zM848 244h1v1h-1zM373 261h1v1h-1zM523 285h1v1h-1zM292 300h1v1h-1zM314 300h1v1h-1zM336 297h1v1h-1zM704 225h1v2h-1zM524 286h1v1h-1zM745 254h1v1h-1zM894 243h1v1h-1zM546 292h1v1h-1zM726 250h1v1h-1zM811 208h1v1h-1zM412 309h1v2h-1zM549 296h1v2h-1zM578 342h1v1h-1zM911 250h1v1h-1zM764 239h1v2h-1zM658 230h1v2h-1zM341 295h1v1h-1zM376 262h1v1h-1zM828 224h1v1h-1zM571 329h1v2h-1zM511 288h1v1h-1zM579 343h1v1h-1zM682 197h1v1h-1zM818 216h1v1h-1zM829 225h1v1h-1zM556 313h1v2h-1zM409 303h1v2h-1zM368 263h1v1h-1zM398 284h1v2h-1zM799 202h1v1h-1zM605 355h1v1h-1zM597 351h1v1h-1zM780 216h1v1h-1zM279 287h1v2h-1zM586 350h1v1h-1zM681 197h1v1h-1zM670 209h1v1h-1zM722 247h1v1h-1zM375 261h1v1h-1zM740 255h1v1h-1zM299 302h1v1h-1zM386 270h1v1h-1zM703 223h1v2h-1zM810 207h1v1h-1zM593 349h1v1h-1zM767 236h1v1h-1zM444 378h1v1h-1zM387 271h1v1h-1zM574 335h1v1h-1zM537 295h1v1h-1zM628 323h1v2h-1zM348 288h1v1h-1zM689 200h1v1h-1zM863 236h1v1h-1zM337 297h1v1h-1zM855 241h1v1h-1zM530 292h1v1h-1zM570 328h1v1h-1zM751 251h1v1h-1zM907 251h1v1h-1zM268 262h1v3h-1zM560 319h1v2h-1zM684 197h1v1h-1zM721 246h1v1h-1zM533 293h1v1h-1zM787 209h1v1h-1zM585 349h1v1h-1zM673 205h1v1h-1zM534 294h1v1h-1zM791 206h1v1h-1zM843 244h1v1h-1zM688 199h1v1h-1zM276 281h1v2h-1zM707 230h1v1h-1zM635 308h1v2h-1zM301 302h1v1h-1zM713 237h1v1h-1zM881 239h1v1h-1zM612 352h1v1h-1zM615 348h1v1h-1zM714 238h1v1h-1zM870 238h1v1h-1zM325 295h1v1h-1zM851 243h1v1h-1zM302 302h1v1h-1zM747 253h1v1h-1zM884 240h1v1h-1zM589 350h1v1h-1zM794 203h1v1h-1zM805 203h1v1h-1zM759 245h1v1h-1zM832 229h1v1h-1zM422 330h1v2h-1zM559 318h1v1h-1zM382 267h1v1h-1zM328 296h1v1h-1zM339 296h1v1h-1zM743 255h1v1h-1zM806 204h1v1h-1zM309 301h1v1h-1zM857 240h1v1h-1zM397 283h1v1h-1zM752 251h1v1h-1zM563 324h1v1h-1zM705 227h1v2h-1zM455 382h1v1h-1zM732 254h1v1h-1zM892 243h1v1h-1zM544 292h1v1h-1zM873 239h1v1h-1zM914 249h1v1h-1zM359 274h1v1h-1zM706 229h1v1h-1zM275 279h1v2h-1zM370 261h1v1h-1zM903 248h1v1h-1zM495 292h1v1h-1zM506 292h1v1h-1zM876 240h1v1h-1zM824 220h1v1h-1zM351 284h1v1h-1zM567 326h1v1h-1zM782 214h1v1h-1zM691 202h1v2h-1zM499 289h1v1h-1zM728 252h1v1h-1zM331 296h1v1h-1zM869 237h1v1h-1zM846 244h1v1h-1zM888 241h1v1h-1zM289 299h1v1h-1zM396 282h1v1h-1zM603 355h1v1h-1zM367 264h1v1h-1zM407 299h1v2h-1zM447 382h1v1h-1zM562 323h1v1h-1zM831 228h1v1h-1zM891 242h1v1h-1zM502 290h1v1h-1zM738 256h1v1h-1zM421 328h1v2h-1zM610 354h1v1h-1zM503 291h1v1h-1zM861 237h1v1h-1zM865 235h1v1h-1zM622 336h1v2h-1zM853 242h1v1h-1zM362 270h1v1h-1zM731 253h1v1h-1zM634 310h1v2h-1zM599 353h1v1h-1zM451 384h1v1h-1zM343 293h1v1h-1zM540 294h1v1h-1zM600 354h1v1h-1zM702 221h1v2h-1zM478 327h1v2h-1zM388 272h1v2h-1zM354 280h1v1h-1zM663 220h1v2h-1zM724 249h1v1h-1zM754 250h1v1h-1zM274 277h1v2h-1zM525 287h1v1h-1zM694 207h1v2h-1zM446 380h1v2h-1zM389 274h1v1h-1zM293 300h1v1h-1zM457 381h1v1h-1zM547 293h1v1h-1zM727 251h1v1h-1zM618 343h1v2h-1zM735 255h1v1h-1zM812 209h1v1h-1zM307 302h1v1h-1zM695 209h1v1h-1zM750 252h1v1h-1zM316 298h1v1h-1zM895 243h1v1h-1zM580 344h1v1h-1zM320 295h1v1h-1zM521 285h1v1h-1zM819 217h1v1h-1zM312 300h1v1h-1zM581 345h1v1h-1zM334 297h1v1h-1zM777 219h1v2h-1zM591 349h1v1h-1zM849 244h1v1h-1zM766 237h1v1h-1zM667 213h1v1h-1zM820 217h1v1h-1zM335 297h1v1h-1zM823 219h1v1h-1zM285 296h1v1h-1zM773 226h1v2h-1zM701 219h1v2h-1zM761 243h1v1h-1zM690 201h1v1h-1zM510 289h1v1h-1zM910 250h1v1h-1zM453 383h1v1h-1zM345 292h1v1h-1zM445 379h1v1h-1zM797 202h1v1h-1zM789 207h1v1h-1zM594 349h1v1h-1zM377 262h1v1h-1zM406 297h1v2h-1zM438 366h1v2h-1zM638 302h1v2h-1zM675 203h1v1h-1zM715 239h1v1h-1zM746 254h1v1h-1zM833 230h1v2h-1zM595 350h1v1h-1zM793 204h1v1h-1zM296 301h1v1h-1zM399 286h1v1h-1zM716 240h1v1h-1zM834 232h1v1h-1zM898 244h1v1h-1zM807 205h1v1h-1zM879 239h1v1h-1zM723 248h1v1h-1zM808 206h1v1h-1zM769 233h1v1h-1zM284 295h1v1h-1zM686 198h1v1h-1zM369 262h1v1h-1zM587 350h1v1h-1zM708 231h1v1h-1zM678 199h1v1h-1zM693 206h1v1h-1zM741 255h1v1h-1zM364 268h1v1h-1zM542 293h1v1h-1zM815 213h1v1h-1zM859 238h1v1h-1zM912 249h1v1h-1zM683 197h1v1h-1zM449 384h1v1h-1zM516 285h1v1h-1zM874 240h1v1h-1zM497 290h1v1h-1zM318 297h1v1h-1z" fill="#0000cd" shape-rendering="crispEdges"/>
<g shape-rendering="crispEdges"><rect x="10" y="292" width="1" height="68" fill="#32cd32"/><rect x="8" y="301" width="5" height="40" fill="#32cd32"/><rect x="18" y="322" width="1" height="35" fill="#ff0000"/><rect x="16" y="330" width="5" height="11" fill="#ff0000"/><rect x="17" y="331" width="3" height="9" fill="#ff4500"/><rect x="26" y="211" width="1" height="133" fill="#ff0000"/><rect x="24" y="225" width="5" height="106" fill="#ff0000"/><rect x="25" y="226" width="3" height="104" fill="#ff4500"/><rect x="34" y="184" width="1" height="56" fill="#ff0000"/><rect x="32" y="196" width="5" height="29" fill="#ff0000"/><rect x="33" y="197" width="3" height="27" fill="#ff4500"/><rect x="42" y="186" width="1" height="116" fill="#32cd32"/><rect x="40" y="197" width="5" height="81" fill="#32cd32"/><rect x="50" y="265" width="1" height="19" fill="#32cd32"/><rect x="48" y="278" width="5" height="6" fill="#32cd32"/><rect x="58" y="214" width="1" height="64" fill="#ff0000"/><rect x="56" y="216" width="5" height="40" fill="#ff0000"/><rect x="57" y="217" width="3" height="38" fill="#ff4500"/><rect x="66" y="198" width="1" height="26" fill="#ff0000"/><rect x="64" y="203" width="5" height="13" fill="#ff0000"/><rect x="65" y="204" width="3" height="11" fill="#ff4500"/><rect x="74" y="196" width="1" height="63" fill="#32cd32"/><rect x="72" y="202" width="5" height="50" fill="#32cd32"/><rect x="82" y="221" width="1" height="39" fill="#ff0000"/><rect x="80" y="239" width="5" height="15" fill="#ff0000"/><rect x="81" y="240" width="3" height="13" fill="#ff4500"/><rect x="90" y="210" width="1" height="40" fill="#ff0000"/><rect x="88" y="229" width="5" height="11" fill="#ff0000"/><rect x="89" y="230" width="3" height="9" fill="#ff4500"/><rect x="98" y="218" width="1" height="12" fill="#ff0000"/><rect x="96" y="228" width="5" height="2" fill="#ff0000"/><rect x="106" y="206" width="1" height="23" fill="#32cd32"/><rect x="104" y="223" width="5" height="3" fill="#32cd32"/><rect x="114" y="183" width="1" height="43" fill="#ff0000"/><rect x="112" y="184" width="5" height="42" fill="#ff0000"/><rect x="113" y="185" width="3" height="40" fill="#ff4500"/><rect x="122" y="151" width="1" height="50" fill="#32cd32"/><rect x="120" y="184" width="5" height="17" fill="#32cd32"/><rect x="130" y="145" width="1" height="56" fill="#ff0000"/><rect x="128" y="154" width="5" height="47" fill="#ff0000"/><rect x="129" y="155" width="3" height="45" fill="#ff4500"/><rect x="138" y="100" width="1" height="59" fill="#ff0000"/><rect x="136" y="117" width="5" height="38" fill="#ff0000"/><rect x="137" y="118" width="3" height="36" fill="#ff4500"/><rect x="146" y="105" width="1" height="16" fill="#ff0000"/><rect x="144" y="114" width="5" height="4" fill="#ff0000"/><rect x="145" y="115" width="3" height="2" fill="#ff4500"/><rect x="226" y="54" width="1" height="92" fill="#32cd32"/><rect x="224" y="84" width="5" height="61" fill="#32cd32"/><rect x="234" y="139" width="1" height="83" fill="#32cd32"/><rect x="232" y="144" width="5" height="75" fill="#32cd32"/><rect x="242" y="198" width="1" height="26" fill="#ff0000"/><rect x="240" y="215" width="5" height="4" fill="#ff0000"/><rect x="241" y="216" width="3" height="2" fill="#ff4500"/><rect x="250" y="220" width="1" height="51" fill="#32cd32"/><rect x="248" y="220" width="5" height="45" fill="#32cd32"/><rect x="258" y="263" width="1" height="29" fill="#32cd32"/><rect x="256" y="264" width="5" height="16" fill="#32cd32"/><rect x="266" y="260" width="1" height="87" fill="#32cd32"/><rect x="264" y="280" width="5" height="31" fill="#32cd32"/><rect x="274" y="298" width="1" height="39" fill="#32cd32"/><rect x="272" y="310" width="5" height="7" fill="#32cd32"/><rect x="282" y="287" width="1" height="58" fill="#ff0000"/><rect x="280" y="301" width="5" height="16" fill="#ff0000"/><rect x="281" y="302" width="3" height="14" fill="#ff4500"/><rect x="290" y="290" width="1" height="14" fill="#ff0000"/><rect x="288" y="290" width="5" height="12" fill="#ff0000"/><rect x="289" y="291" width="3" height="10" fill="#ff4500"/><rect x="298" y="274" width="1" height="28" fill="#ff0000"/><rect x="296" y="294" width="5" height="5" fill="#ff0000"/><rect x="297" y="295" width="3" height="3" fill="#ff4500"/><rect x="306" y="282" width="1" height="37" fill="#32cd32"/><rect x="304" y="295" width="5" height="14" fill="#32cd32"/><rect x="314" y="276" width="1" height="37" fill="#ff0000"/><rect x="312" y="304" width="5" height="4" fill="#ff0000"/><rect x="313" y="305" width="3" height="2" fill="#ff4500"/><rect x="322" y="261" width="1" height="51" fill="#ff0000"/><rect x="320" y="276" width="5" height="29" fill="#ff0000"/><rect x="321" y="277" width="3" height="27" fill="#ff4500"/><rect x="330" y="269" width="1" height="49" fill="#32cd32"/><rect x="328" y="276" width="5" height="28" fill="#32cd32"/><rect x="338" y="288" width="1" height="23" fill="#ff0000"/><rect x="336" y="291" width="5" height="13" fill="#ff0000"/><rect x="337" y="292" width="3" height="11" fill="#ff4500"/><rect x="346" y="261" width="1" height="42" fill="#ff0000"/><rect x="344" y="278" width="5" height="19" fill="#ff0000"/><rect x="345" y="279" width="3" height="17" fill="#ff4500"/><rect x="354" y="239" width="1" height="44" fill="#ff0000"/><rect x="352" y="249" width="5" height="31" fill="#ff0000"/><rect x="353" y="250" width="3" height="29" fill="#ff4500"/><rect x="362" y="230" width="1" height="40" fill="#ff0000"/><rect x="360" y="238" width="5" height="12" fill="#ff0000"/><rect x="361" y="239" width="3" height="10" fill="#ff4500"/><rect x="370" y="226" width="1" height="29" fill="#32cd32"/><rect x="368" y="238" width="5" height="11" fill="#32cd32"/><rect x="378" y="234" width="1" height="78" fill="#32cd32"/><rect x="376" y="249" width="5" height="49" fill="#32cd32"/><rect x="386" y="292" width="1" height="25" fill="#32cd32"/><rect x="384" y="296" width="5" height="21" fill="#32cd32"/><rect x="394" y="281" width="1" height="52" fill="#ff0000"/><rect x="392" y="299" width="5" height="26" fill="#ff0000"/><rect x="393" y="300" width="3" height="24" fill="#ff4500"/><rect x="402" y="285" width="1" height="24" fill="#ff0000"/><rect x="400" y="290" width="5" height="10" fill="#ff0000"/><rect x="401" y="291" width="3" height="8" fill="#ff4500"/><rect x="410" y="282" width="1" height="59" fill="#32cd32"/><rect x="408" y="290" width="5" height="44" fill="#32cd32"/><rect x="418" y="328" width="1" height="57" fill="#32cd32"/><rect x="416" y="333" width="5" height="43" fill="#32cd32"/><rect x="426" y="360" width="1" height="46" fill="#32cd32"/><rect x="424" y="374" width="5" height="23" fill="#32cd32"/><rect x="434" y="394" width="1" height="22" fill="#32cd32"/><rect x="432" y="396" width="5" height="7" fill="#32cd32"/><rect x="442" y="366" width="1" height="38" fill="#ff0000"/><rect x="440" y="382" width="5" height="22" fill="#ff0000"/><rect x="441" y="383" width="3" height="20" fill="#ff4500"/><rect x="450" y="363" width="1" height="32" fill="#ff0000"/><rect x="448" y="376" width="5" height="6" fill="#ff0000"/><rect x="449" y="377" width="3" height="4" fill="#ff4500"/><rect x="458" y="329" width="1" height="53" fill="#ff0000"/><rect x="456" y="349" width="5" height="27" fill="#ff0000"/><rect x="457" y="350" width="3" height="25" fill="#ff4500"/><rect x="466" y="285" width="1" height="65" fill="#ff0000"/><rect x="464" y="296" width="5" height="54" fill="#ff0000"/><rect x="465" y="297" width="3" height="52" fill="#ff4500"/><rect x="474" y="255" width="1" height="59" fill="#ff0000"/><rect x="472" y="289" width="5" height="8" fill="#ff0000"/><rect x="473" y="290" width="3" height="6" fill="#ff4500"/><rect x="482" y="275" width="1" height="22" fill="#32cd32"/><rect x="480" y="289" width="5" height="4" fill="#32cd32"/><rect x="490" y="265" width="1" height="32" fill="#ff0000"/><rect x="488" y="266" width="5" height="28" fill="#ff0000"/><rect x="489" y="267" width="3" height="26" fill="#ff4500"/><rect x="498" y="261" width="1" height="47" fill="#32cd32"/><rect x="496" y="266" width="5" height="34" fill="#32cd32"/><rect x="506" y="295" width="1" height="41" fill="#32cd32"/><rect x="504" y="298" width="5" height="16" fill="#32cd32"/><rect x="514" y="248" width="1" height="74" fill="#ff0000"/><rect x="512" y="261" width="5" height="53" fill="#ff0000"/><rect x="513" y="262" width="3" height="51" fill="#ff4500"/><rect x="522" y="258" width="1" height="42" fill="#32cd32"/><rect x="520" y="261" width="5" height="24" fill="#32cd32"/><rect x="530" y="280" width="1" height="26" fill="#32cd32"/><rect x="528" y="284" width="5" height="20" fill="#32cd32"/><rect x="538" y="301" width="1" height="19" fill="#32cd32"/><rect x="536" y="303" width="5" height="9" fill="#32cd32"/><rect x="546" y="284" width="1" height="33" fill="#ff0000"/><rect x="544" y="298" width="5" height="14" fill="#ff0000"/><rect x="545" y="299" width="3" height="12" fill="#ff4500"/><rect x="554" y="296" width="1" height="59" fill="#32cd32"/><rect x="552" y="298" width="5" height="55" fill="#32cd32"/><rect x="562" y="330" width="1" height="36" fill="#ff0000"/><rect x="560" y="344" width="5" height="8" fill="#ff0000"/><rect x="561" y="345" width="3" height="6" fill="#ff4500"/><rect x="570" y="307" width="1" height="49" fill="#ff0000"/><rect x="568" y="342" width="5" height="2" fill="#ff0000"/><rect x="578" y="338" width="1" height="38" fill="#32cd32"/><rect x="576" y="343" width="5" height="30" fill="#32cd32"/><rect x="586" y="343" width="1" height="45" fill="#ff0000"/><rect x="584" y="350" width="5" height="26" fill="#ff0000"/><rect x="585" y="351" width="3" height="24" fill="#ff4500"/><rect x="594" y="312" width="1" height="41" fill="#ff0000"/><rect x="592" y="336" width="5" height="14" fill="#ff0000"/><rect x="593" y="337" width="3" height="12" fill="#ff4500"/><rect x="602" y="336" width="1" height="49" fill="#32cd32"/><rect x="600" y="336" width="5" height="33" fill="#32cd32"/><rect x="610" y="330" width="1" height="43" fill="#ff0000"/><rect x="608" y="355" width="5" height="15" fill="#ff0000"/><rect x="609" y="356" width="3" height="13" fill="#ff4500"/><rect x="618" y="302" width="1" height="76" fill="#ff0000"/><rect x="616" y="307" width="5" height="48" fill="#ff0000"/><rect x="617" y="308" width="3" height="46" fill="#ff4500"/><rect x="626" y="270" width="1" height="41" fill="#ff0000"/><rect x="624" y="272" width="5" height="36" fill="#ff0000"/><rect x="625" y="273" width="3" height="34" fill="#ff4500"/><rect x="634" y="257" width="1" height="32" fill="#ff0000"/><rect x="632" y="259" width="5" height="28" fill="#ff0000"/><rect x="633" y="260" width="3" height="26" fill="#ff4500"/><rect x="642" y="236" width="1" height="36" fill="#ff0000"/><rect x="640" y="245" width="5" height="15" fill="#ff0000"/><rect x="641" y="246" width="3" height="13" fill="#ff4500"/><rect x="650" y="176" width="1" height="77" fill="#ff0000"/><rect x="648" y="198" width="5" height="48" fill="#ff0000"/><rect x="649" y="199" width="3" height="46" fill="#ff4500"/><rect x="658" y="181" width="1" height="23" fill="#ff0000"/><rect x="656" y="189" width="5" height="10" fill="#ff0000"/><rect x="657" y="190" width="3" height="8" fill="#ff4500"/><rect x="666" y="169" width="1" height="49" fill="#ff0000"/><rect x="664" y="187" width="5" height="4" fill="#ff0000"/><rect x="665" y="188" width="3" height="2" fill="#ff4500"/><rect x="674" y="187" width="1" height="24" fill="#32cd32"/><rect x="672" y="187" width="5" height="18" fill="#32cd32"/><rect x="682" y="187" width="1" height="28" fill="#32cd32"/><rect x="680" y="199" width="5" height="2" fill="#32cd32"/><rect x="690" y="198" width="1" height="33" fill="#32cd32"/><rect x="688" y="200" width="5" height="24" fill="#32cd32"/><rect x="698" y="221" width="1" height="45" fill="#32cd32"/><rect x="696" y="223" width="5" height="39" fill="#32cd32"/><rect x="706" y="243" width="1" height="38" fill="#32cd32"/><rect x="704" y="261" width="5" height="3" fill="#32cd32"/><rect x="714" y="229" width="1" height="51" fill="#ff0000"/><rect x="712" y="251" width="5" height="13" fill="#ff0000"/><rect x="713" y="252" width="3" height="11" fill="#ff4500"/><rect x="722" y="244" width="1" height="12" fill="#ff0000"/><rect x="720" y="245" width="5" height="7" fill="#ff0000"/><rect x="721" y="246" width="3" height="5" fill="#ff4500"/><rect x="730" y="236" width="1" height="37" fill="#ff0000"/><rect x="728" y="246" width="5" height="1" fill="#ff0000"/><rect x="738" y="232" width="1" height="72" fill="#32cd32"/><rect x="736" y="246" width="5" height="30" fill="#32cd32"/><rect x="746" y="243" width="1" height="36" fill="#ff0000"/><rect x="744" y="256" width="5" height="20" fill="#ff0000"/><rect x="745" y="257" width="3" height="18" fill="#ff4500"/><rect x="754" y="224" width="1" height="76" fill="#ff0000"/><rect x="752" y="230" width="5" height="27" fill="#ff0000"/><rect x="753" y="231" width="3" height="25" fill="#ff4500"/><rect x="762" y="195" width="1" height="46" fill="#ff0000"/><rect x="760" y="207" width="5" height="23" fill="#ff0000"/><rect x="761" y="208" width="3" height="21" fill="#ff4500"/><rect x="770" y="196" width="1" height="15" fill="#ff0000"/><rect x="768" y="202" width="5" height="6" fill="#ff0000"/><rect x="769" y="203" width="3" height="4" fill="#ff4500"/><rect x="778" y="184" width="1" height="28" fill="#32cd32"/><rect x="776" y="195" width="5" height="5" fill="#32cd32"/><rect x="786" y="192" width="1" height="36" fill="#32cd32"/><rect x="784" y="199" width="5" height="19" fill="#32cd32"/><rect x="794" y="189" width="1" height="40" fill="#ff0000"/><rect x="792" y="190" width="5" height="28" fill="#ff0000"/><rect x="793" y="191" width="3" height="26" fill="#ff4500"/><rect x="802" y="187" width="1" height="27" fill="#32cd32"/><rect x="800" y="190" width="5" height="7" fill="#32cd32"/><rect x="810" y="180" width="1" height="68" fill="#32cd32"/><rect x="808" y="196" width="5" height="40" fill="#32cd32"/><rect x="818" y="226" width="1" height="16" fill="#32cd32"/><rect x="816" y="235" width="5" height="6" fill="#32cd32"/><rect x="826" y="229" width="1" height="23" fill="#32cd32"/><rect x="824" y="241" width="5" height="5" fill="#32cd32"/><rect x="834" y="227" width="1" height="48" fill="#ff0000"/><rect x="832" y="237" width="5" height="9" fill="#ff0000"/><rect x="833" y="238" width="3" height="7" fill="#ff4500"/><rect x="842" y="230" width="1" height="45" fill="#32cd32"/><rect x="840" y="237" width="5" height="27" fill="#32cd32"/><rect x="850" y="229" width="1" height="39" fill="#ff0000"/><rect x="848" y="237" width="5" height="27" fill="#ff0000"/><rect x="849" y="238" width="3" height="25" fill="#ff4500"/><rect x="858" y="209" width="1" height="35" fill="#ff0000"/><rect x="856" y="218" width="5" height="20" fill="#ff0000"/><rect x="857" y="219" width="3" height="18" fill="#ff4500"/><rect x="866" y="212" width="1" height="10" fill="#ff0000"/><rect x="864" y="217" width="5" height="2" fill="#ff0000"/><rect x="874" y="220" width="1" height="44" fill="#32cd32"/><rect x="872" y="224" width="5" height="39" fill="#32cd32"/><rect x="882" y="255" width="1" height="28" fill="#ff0000"/><rect x="880" y="259" width="5" height="4" fill="#ff0000"/><rect x="881" y="260" width="3" height="2" fill="#ff4500"/><rect x="890" y="236" width="1" height="29" fill="#ff0000"/><rect x="888" y="259" width="5" height="1" fill="#ff0000"/><rect x="898" y="213" width="1" height="57" fill="#ff0000"/><rect x="896" y="224" width="5" height="36" fill="#ff0000"/><rect x="897" y="225" width="3" height="34" fill="#ff4500"/><rect x="906" y="218" width="1" height="47" fill="#32cd32"/><rect x="904" y="224" width="5" height="29" fill="#32cd32"/><rect x="914" y="247" width="1" height="10" fill="#ff0000"/><rect x="912" y="251" width="5" height="2" fill="#ff0000"/><rect x="2" y="264" width="1" height="22" fill="#32cd32"/></g>
<g shape-rendering="crispEdges">
<rect x="606" y="164" width="407" height="2" fill="#ff2222"/>
<rect x="607" y="275" width="406" height="2" fill="#8cc800"/>
<rect x="602" y="334" width="418" height="2" fill="#2288e0"/>
<rect x="1" y="452" width="3" height="15" fill="#c0c0c0"/>
<rect x="9" y="453" width="3" height="14" fill="#c0c0c0"/>
<rect x="17" y="455" width="3" height="12" fill="#c0c0c0"/>
<rect x="25" y="452" width="3" height="15" fill="#c0c0c0"/>
<rect x="33" y="449" width="3" height="18" fill="#c0c0c0"/>
<rect x="41" y="450" width="3" height="17" fill="#c0c0c0"/>
<rect x="49" y="451" width="3" height="16" fill="#c0c0c0"/>
<rect x="57" y="450" width="3" height="17" fill="#c0c0c0"/>
<rect x="65" y="448" width="3" height="19" fill="#c0c0c0"/>
<rect x="73" y="449" width="3" height="18" fill="#c0c0c0"/>
<rect x="81" y="449" width="3" height="18" fill="#c0c0c0"/>
<rect x="89" y="449" width="3" height="18" fill="#c0c0c0"/>
<rect x="97" y="450" width="3" height="17" fill="#c0c0c0"/>
<rect x="105" y="450" width="3" height="17" fill="#c0c0c0"/>
<rect x="113" y="448" width="3" height="19" fill="#c0c0c0"/>
<rect x="121" y="448" width="3" height="19" fill="#c0c0c0"/>
<rect x="129" y="446" width="3" height="21" fill="#c0c0c0"/>
<rect x="137" y="443" width="3" height="24" fill="#c0c0c0"/>
<rect x="145" y="440" width="3" height="27" fill="#c0c0c0"/>
<rect x="153" y="438" width="3" height="29" fill="#c0c0c0"/>
<rect x="161" y="436" width="3" height="31" fill="#c0c0c0"/>
<rect x="169" y="434" width="3" height="33" fill="#c0c0c0"/>
<rect x="177" y="433" width="3" height="34" fill="#c0c0c0"/>
<rect x="185" y="432" width="3" height="35" fill="#c0c0c0"/>
<rect x="193" y="432" width="3" height="35" fill="#c0c0c0"/>
<rect x="201" y="431" width="3" height="36" fill="#c0c0c0"/>
<rect x="209" y="434" width="3" height="33" fill="#c0c0c0"/>
<rect x="217" y="434" width="3" height="33" fill="#c0c0c0"/>
<rect x="225" y="439" width="3" height="28" fill="#c0c0c0"/>
<rect x="233" y="446" width="3" height="21" fill="#c0c0c0"/>
<rect x="241" y="452" width="3" height="15" fill="#c0c0c0"/>
<rect x="249" y="460" width="3" height="7" fill="#c0c0c0"/>
<rect x="257" y="466" width="3" height="1" fill="#c0c0c0"/>
<rect x="265" y="466" width="3" height="8" fill="#c0c0c0"/>
<rect x="273" y="466" width="3" height="12" fill="#c0c0c0"/>
<rect x="281" y="466" width="3" height="15" fill="#c0c0c0"/>
<rect x="289" y="466" width="3" height="18" fill="#c0c0c0"/>
<rect x="297" y="466" width="3" height="20" fill="#c0c0c0"/>
<rect x="305" y="466" width="3" height="22" fill="#c0c0c0"/>
<rect x="313" y="466" width="3" height="22" fill="#c0c0c0"/>
<rect x="321" y="466" width="3" height="22" fill="#c0c0c0"/>
<rect x="329" y="466" width="3" height="22" fill="#c0c0c0"/>
<rect x="337" y="466" width="3" height="22" fill="#c0c0c0"/>
<rect x="345" y="466" width="3" height="20" fill="#c0c0c0"/>
<rect x="353" y="466" width="3" height="18" fill="#c0c0c0"/>
<rect x="361" y="466" width="3" height="15" fill="#c0c0c0"/>
<rect x="369" y="466" width="3" height="13" fill="#c0c0c0"/>
<rect x="377" y="466" width="3" height="13" fill="#c0c0c0"/>
<rect x="385" y="466" width="3" height="15" fill="#c0c0c0"/>
<rect x="393" y="466" width="3" height="15" fill="#c0c0c0"/>
<rect x="401" y="466" width="3" height="15" fill="#c0c0c0"/>
<rect x="409" y="466" width="3" height="16" fill="#c0c0c0"/>
<rect x="417" y="466" width="3" height="20" fill="#c0c0c0"/>
<rect x="425" y="466" width="3" height="23" fill="#c0c0c0"/>
<rect x="433" y="466" width="3" height="26" fill="#c0c0c0"/>
<rect x="441" y="466" width="3" height="26" fill="#c0c0c0"/>
<rect x="449" y="466" width="3" height="26" fill="#c0c0c0"/>
<rect x="457" y="466" width="3" height="25" fill="#c0c0c0"/>
<rect x="465" y="466" width="3" height="21" fill="#c0c0c0"/>
<rect x="473" y="466" width="3" height="17" fill="#c0c0c0"/>
<rect x="481" y="466" width="3" height="14" fill="#c0c0c0"/>
<rect x="489" y="466" width="3" height="11" fill="#c0c0c0"/>
<rect x="497" y="466" width="3" height="9" fill="#c0c0c0"/>
<rect x="505" y="466" width="3" height="9" fill="#c0c0c0"/>
<rect x="513" y="466" width="3" height="6" fill="#c0c0c0"/>
<rect x="521" y="466" width="3" height="4" fill="#c0c0c0"/>
<rect x="529" y="466" width="3" height="4" fill="#c0c0c0"/>
<rect x="537" y="466" width="3" height="4" fill="#c0c0c0"/>
<rect x="545" y="466" width="3" height="4" fill="#c0c0c0"/>
<rect x="553" y="466" width="3" height="6" fill="#c0c0c0"/>
<rect x="561" y="466" width="3" height="8" fill="#c0c0c0"/>
<rect x="569" y="466" width="3" height="9" fill="#c0c0c0"/>
<rect x="577" y="466" width="3" height="11" fill="#c0c0c0"/>
<rect x="585" y="466" width="3" height="11" fill="#c0c0c0"/>
<rect x="593" y="466" width="3" height="11" fill="#c0c0c0"/>
<rect x="601" y="466" width="3" height="11" fill="#c0c0c0"/>
<rect x="609" y="466" width="3" height="12" fill="#c0c0c0"/>
<rect x="617" y="466" width="3" height="9" fill="#c0c0c0"/>
<rect x="625" y="466" width="3" height="6" fill="#c0c0c0"/>
<rect x="633" y="466" width="3" height="2" fill="#c0c0c0"/>
<rect x="641" y="464" width="3" height="3" fill="#c0c0c0"/>
<rect x="649" y="460" width="3" height="7" fill="#c0c0c0"/>
<rect x="657" y="455" width="3" height="12" fill="#c0c0c0"/>
<rect x="665" y="452" width="3" height="15" fill="#c0c0c0"/>
<rect x="673" y="450" width="3" height="17" fill="#c0c0c0"/>
<rect x="681" y="449" width="3" height="18" fill="#c0c0c0"/>
<rect x="689" y="450" width="3" height="17" fill="#c0c0c0"/>
<rect x="697" y="452" width="3" height="15" fill="#c0c0c0"/>
<rect x="705" y="454" width="3" height="13" fill="#c0c0c0"/>
<rect x="713" y="455" width="3" height="12" fill="#c0c0c0"/>
<rect x="721" y="456" width="3" height="11" fill="#c0c0c0"/>
<rect x="729" y="457" width="3" height="10" fill="#c0c0c0"/>
<rect x="737" y="459" width="3" height="8" fill="#c0c0c0"/>
<rect x="745" y="460" width="3" height="7" fill="#c0c0c0"/>
<rect x="753" y="459" width="3" height="8" fill="#c0c0c0"/>
<rect x="761" y="458" width="3" height="9" fill="#c0c0c0"/>
<rect x="769" y="457" width="3" height="10" fill="#c0c0c0"/>
<rect x="777" y="456" width="3" height="11" fill="#c0c0c0"/>
<rect x="785" y="456" width="3" height="11" fill="#c0c0c0"/>
<rect x="793" y="454" width="3" height="13" fill="#c0c0c0"/>
<rect x="801" y="454" width="3" height="13" fill="#c0c0c0"/>
<rect x="809" y="457" width="3" height="10" fill="#c0c0c0"/>
<rect x="817" y="458" width="3" height="9" fill="#c0c0c0"/>
<rect x="825" y="459" width="3" height="8" fill="#c0c0c0"/>
<rect x="833" y="461" width="3" height="6" fill="#c0c0c0"/>
<rect x="841" y="463" width="3" height="4" fill="#c0c0c0"/>
<rect x="849" y="464" width="3" height="3" fill="#c0c0c0"/>
<rect x="857" y="463" width="3" height="4" fill="#c0c0c0"/>
<rect x="865" y="463" width="3" height="4" fill="#c0c0c0"/>
<rect x="873" y="465" width="3" height="2" fill="#c0c0c0"/>
<rect x="881" y="466" width="3" height="1" fill="#c0c0c0"/>
<rect x="889" y="466" width="3" height="2" fill="#c0c0c0"/>
<rect x="897" y="466" width="3" height="1" fill="#c0c0c0"/>
<rect x="905" y="466" width="3" height="2" fill="#c0c0c0"/>
<rect x="913" y="466" width="3" height="2" fill="#c0c0c0"/>
</g>
<path d="M0 451h92v1h-92zM272 451h2v1h-2zM207 434h23v1h-23zM282 457h1v1h-1zM691 457h3v1h-3zM756 457h13v1h-13zM801 457h40v1h-40zM291 463h1v1h-1zM673 463h3v1h-3zM882 463h18v1h-18zM136 448h5v1h-5zM267 448h2v1h-2zM172 441h5v1h-5zM252 441h3v1h-3zM156 444h5v1h-5zM259 444h2v1h-2zM305 473h2v1h-2zM543 473h9v1h-9zM587 473h11v1h-11zM641 473h4v1h-4zM308 475h2v1h-2zM532 475h4v1h-4zM606 475h31v1h-31zM303 472h2v1h-2zM552 472h11v1h-11zM574 472h13v1h-13zM645 472h4v1h-4zM335 484h7v1h-7zM367 484h10v1h-10zM436 484h5v1h-5zM497 484h4v1h-4zM319 481h4v1h-4zM401 481h23v1h-23zM508 481h4v1h-4zM120 449h16v1h-16zM269 449h2v1h-2zM329 483h6v1h-6zM377 483h10v1h-10zM430 483h6v1h-6zM501 483h4v1h-4zM151 445h5v1h-5zM261 445h2v1h-2zM186 438h5v1h-5zM242 438h3v1h-3zM292 464h1v1h-1zM670 464h3v1h-3zM900 464h6v1h-6zM92 450h28v1h-28zM271 450h1v1h-1zM200 435h7v1h-7zM230 435h4v1h-4zM275 453h2v1h-2zM707 453h31v1h-31zM342 485h8v1h-8zM358 485h9v1h-9zM441 485h5v1h-5zM492 485h5v1h-5zM302 471h1v1h-1zM563 471h11v1h-11zM649 471h4v1h-4zM307 474h1v1h-1zM536 474h7v1h-7zM598 474h8v1h-8zM637 474h4v1h-4zM317 480h2v1h-2zM512 480h4v1h-4zM315 479h2v1h-2zM516 479h4v1h-4zM283 458h2v1h-2zM688 458h3v1h-3zM769 458h32v1h-32zM841 458h6v1h-6zM146 446h5v1h-5zM263 446h2v1h-2zM350 486h8v1h-8zM446 486h9v1h-9zM487 486h5v1h-5zM287 460h1v1h-1zM682 460h3v1h-3zM853 460h21v1h-21zM455 487h32v1h-32zM288 461h1v1h-1zM679 461h3v1h-3zM874 461h4v1h-4zM161 443h5v1h-5zM257 443h2v1h-2zM311 477h2v1h-2zM524 477h4v1h-4zM313 478h2v1h-2zM520 478h4v1h-4zM289 462h2v1h-2zM676 462h3v1h-3zM878 462h4v1h-4zM297 468h2v1h-2zM659 468h2v1h-2zM166 442h6v1h-6zM255 442h2v1h-2zM323 482h6v1h-6zM387 482h14v1h-14zM424 482h6v1h-6zM505 482h3v1h-3zM279 455h1v1h-1zM698 455h3v1h-3zM746 455h5v1h-5zM295 466h1v1h-1zM664 466h3v1h-3zM912 466h3v1h-3zM196 436h4v1h-4zM234 436h4v1h-4zM277 454h2v1h-2zM701 454h6v1h-6zM738 454h8v1h-8zM141 447h5v1h-5zM265 447h2v1h-2zM300 470h2v1h-2zM653 470h3v1h-3zM280 456h2v1h-2zM694 456h4v1h-4zM751 456h5v1h-5zM296 467h1v1h-1zM661 467h3v1h-3zM182 439h4v1h-4zM245 439h3v1h-3zM285 459h2v1h-2zM685 459h3v1h-3zM847 459h6v1h-6zM191 437h5v1h-5zM238 437h4v1h-4zM177 440h5v1h-5zM248 440h4v1h-4zM299 469h1v1h-1zM656 469h3v1h-3zM310 476h1v1h-1zM528 476h4v1h-4zM293 465h2v1h-2zM667 465h3v1h-3zM906 465h6v1h-6zM274 452h1v1h-1z" fill="#ff0000" shape-rendering="crispEdges"/>
<g shape-rendering="crispEdges"><line x1="3" y1="523.5" x2="1164" y2="523.5" stroke="#c0c0c0" stroke-dasharray="3,3"/><line x1="3" y1="556.5" x2="1164" y2="556.5" stroke="#c0c0c0" stroke-dasharray="3,3"/></g>
<path d="M10 541h2v1h-2zM229 541h1v1h-1zM352 541h2v1h-2zM371 541h1v1h-1zM463 541h1v1h-1zM504 541h3v1h-3zM534 541h6v1h-6zM548 541h1v1h-1zM613 541h1v1h-1zM738 541h2v1h-2zM837 541h1v1h-1zM846 541h2v1h-2zM872 541h1v1h-1zM892 541h1v1h-1zM906 541h9v1h-9zM24 531h1v1h-1zM38 531h1v1h-1zM58 531h4v1h-4zM67 531h1v1h-1zM108 531h4v1h-4zM116 531h4v1h-4zM123 531h2v1h-2zM221 531h1v1h-1zM638 531h5v1h-5zM687 531h2v1h-2zM761 531h5v1h-5zM779 531h2v1h-2zM791 531h2v1h-2zM798 531h5v1h-5zM28 528h4v1h-4zM35 528h1v1h-1zM129 528h3v1h-3zM219 528h1v1h-1zM646 528h2v1h-2zM673 528h10v1h-10zM230 542h1v1h-1zM350 542h2v1h-2zM372 542h1v1h-1zM462 542h1v1h-1zM549 542h1v1h-1zM593 542h2v1h-2zM612 542h1v1h-1zM838 542h2v1h-2zM845 542h1v1h-1zM873 542h1v1h-1zM891 542h1v1h-1zM6 536h1v1h-1zM20 536h1v1h-1zM42 536h4v1h-4zM51 536h1v1h-1zM74 536h4v1h-4zM225 536h1v1h-1zM472 536h4v1h-4zM485 536h2v1h-2zM493 536h1v1h-1zM512 536h2v1h-2zM516 536h2v1h-2zM619 536h2v1h-2zM695 536h1v1h-1zM718 536h13v1h-13zM749 536h2v1h-2zM807 536h1v1h-1zM857 536h5v1h-5zM867 536h1v1h-1zM898 536h1v1h-1zM430 556h4v1h-4zM8 539h1v1h-1zM16 539h3v1h-3zM228 539h1v1h-1zM358 539h8v1h-8zM465 539h1v1h-1zM498 539h2v1h-2zM508 539h2v1h-2zM524 539h4v1h-4zM544 539h3v1h-3zM616 539h1v1h-1zM734 539h2v1h-2zM742 539h3v1h-3zM810 539h12v1h-12zM830 539h5v1h-5zM850 539h2v1h-2zM870 539h1v1h-1zM894 539h2v1h-2zM902 539h2v1h-2zM6 537h1v1h-1zM20 537h1v1h-1zM46 537h5v1h-5zM226 537h1v1h-1zM468 537h4v1h-4zM476 537h4v1h-4zM483 537h2v1h-2zM494 537h2v1h-2zM511 537h1v1h-1zM518 537h3v1h-3zM618 537h1v1h-1zM696 537h2v1h-2zM710 537h8v1h-8zM731 537h2v1h-2zM747 537h2v1h-2zM808 537h1v1h-1zM854 537h3v1h-3zM868 537h1v1h-1zM897 537h1v1h-1zM899 537h2v1h-2zM7 538h1v1h-1zM19 538h1v1h-1zM227 538h1v1h-1zM466 538h2v1h-2zM480 538h3v1h-3zM496 538h2v1h-2zM510 538h1v1h-1zM521 538h3v1h-3zM617 538h1v1h-1zM698 538h12v1h-12zM733 538h1v1h-1zM745 538h2v1h-2zM809 538h1v1h-1zM852 538h2v1h-2zM869 538h1v1h-1zM896 538h1v1h-1zM901 538h1v1h-1zM25 530h1v1h-1zM37 530h1v1h-1zM62 530h5v1h-5zM112 530h4v1h-4zM125 530h2v1h-2zM220 530h1v1h-1zM643 530h2v1h-2zM685 530h2v1h-2zM766 530h13v1h-13zM793 530h5v1h-5zM260 553h2v1h-2zM278 553h3v1h-3zM417 553h3v1h-3zM438 553h2v1h-2zM9 540h1v1h-1zM12 540h4v1h-4zM228 540h1v1h-1zM354 540h4v1h-4zM366 540h5v1h-5zM464 540h1v1h-1zM500 540h4v1h-4zM507 540h1v1h-1zM528 540h6v1h-6zM540 540h4v1h-4zM547 540h1v1h-1zM614 540h2v1h-2zM736 540h2v1h-2zM740 540h2v1h-2zM822 540h8v1h-8zM835 540h2v1h-2zM848 540h2v1h-2zM871 540h1v1h-1zM893 540h1v1h-1zM904 540h2v1h-2zM231 543h1v1h-1zM349 543h1v1h-1zM373 543h1v1h-1zM461 543h1v1h-1zM550 543h2v1h-2zM590 543h3v1h-3zM595 543h2v1h-2zM611 543h1v1h-1zM840 543h2v1h-2zM843 543h2v1h-2zM874 543h17v1h-17zM233 546h1v1h-1zM238 546h5v1h-5zM322 546h1v1h-1zM340 546h4v1h-4zM377 546h1v1h-1zM393 546h3v1h-3zM405 546h1v1h-1zM457 546h2v1h-2zM554 546h4v1h-4zM572 546h2v1h-2zM582 546h3v1h-3zM601 546h3v1h-3zM232 545h1v1h-1zM344 545h3v1h-3zM376 545h1v1h-1zM396 545h4v1h-4zM403 545h2v1h-2zM459 545h1v1h-1zM553 545h1v1h-1zM558 545h14v1h-14zM585 545h3v1h-3zM599 545h2v1h-2zM604 545h4v1h-4zM26 529h2v1h-2zM36 529h1v1h-1zM127 529h2v1h-2zM220 529h1v1h-1zM645 529h1v1h-1zM683 529h2v1h-2zM166 523h4v1h-4zM206 523h2v1h-2zM232 544h1v1h-1zM347 544h2v1h-2zM374 544h2v1h-2zM400 544h3v1h-3zM460 544h1v1h-1zM552 544h1v1h-1zM588 544h2v1h-2zM597 544h2v1h-2zM608 544h3v1h-3zM842 544h1v1h-1zM249 550h3v1h-3zM288 550h12v1h-12zM316 550h2v1h-2zM329 550h3v1h-3zM411 550h2v1h-2zM446 550h5v1h-5zM4 534h1v1h-1zM22 534h1v1h-1zM40 534h1v1h-1zM54 534h1v1h-1zM71 534h1v1h-1zM86 534h14v1h-14zM224 534h1v1h-1zM489 534h2v1h-2zM623 534h2v1h-2zM692 534h2v1h-2zM753 534h3v1h-3zM785 534h2v1h-2zM805 534h1v1h-1zM134 526h3v1h-3zM212 526h4v1h-4zM650 526h4v1h-4zM668 526h2v1h-2zM170 522h4v1h-4zM205 522h1v1h-1zM2 532h1v1h-1zM24 532h1v1h-1zM38 532h1v1h-1zM56 532h2v1h-2zM68 532h2v1h-2zM104 532h4v1h-4zM120 532h3v1h-3zM222 532h1v1h-1zM630 532h8v1h-8zM689 532h2v1h-2zM758 532h3v1h-3zM781 532h2v1h-2zM789 532h2v1h-2zM803 532h1v1h-1zM5 535h1v1h-1zM21 535h1v1h-1zM41 535h1v1h-1zM52 535h2v1h-2zM72 535h2v1h-2zM78 535h8v1h-8zM224 535h1v1h-1zM487 535h2v1h-2zM491 535h2v1h-2zM514 535h2v1h-2zM621 535h2v1h-2zM694 535h1v1h-1zM751 535h2v1h-2zM806 535h1v1h-1zM862 535h5v1h-5zM174 521h26v1h-26zM203 521h2v1h-2zM142 524h24v1h-24zM208 524h2v1h-2zM32 527h3v1h-3zM132 527h2v1h-2zM216 527h3v1h-3zM648 527h2v1h-2zM670 527h3v1h-3zM256 552h4v1h-4zM281 552h3v1h-3zM304 552h11v1h-11zM415 552h2v1h-2zM440 552h2v1h-2zM265 555h11v1h-11zM424 555h6v1h-6zM434 555h2v1h-2zM137 525h5v1h-5zM210 525h2v1h-2zM654 525h14v1h-14zM200 520h3v1h-3zM262 554h3v1h-3zM276 554h2v1h-2zM420 554h4v1h-4zM436 554h2v1h-2zM234 547h4v1h-4zM243 547h2v1h-2zM320 547h2v1h-2zM323 547h2v1h-2zM337 547h3v1h-3zM378 547h2v1h-2zM390 547h3v1h-3zM406 547h2v1h-2zM455 547h2v1h-2zM574 547h3v1h-3zM580 547h2v1h-2zM252 551h4v1h-4zM284 551h4v1h-4zM300 551h4v1h-4zM315 551h1v1h-1zM413 551h2v1h-2zM442 551h4v1h-4zM247 549h2v1h-2zM318 549h1v1h-1zM327 549h2v1h-2zM332 549h2v1h-2zM384 549h4v1h-4zM410 549h1v1h-1zM451 549h2v1h-2zM3 533h1v1h-1zM23 533h1v1h-1zM39 533h1v1h-1zM55 533h1v1h-1zM70 533h1v1h-1zM100 533h4v1h-4zM223 533h1v1h-1zM625 533h5v1h-5zM691 533h1v1h-1zM756 533h2v1h-2zM783 533h2v1h-2zM787 533h2v1h-2zM804 533h1v1h-1zM245 548h2v1h-2zM319 548h1v1h-1zM325 548h2v1h-2zM334 548h3v1h-3zM380 548h4v1h-4zM388 548h2v1h-2zM408 548h2v1h-2zM453 548h2v1h-2zM577 548h3v1h-3z" fill="#1e90ff" shape-rendering="crispEdges"/>
</svg>
<div class="bk" style="left:1px;top:28px;width:1164px;height:1px"></div>
<div class="bk" style="left:1px;top:28px;width:1px;height:554px"></div>
<div class="bk" style="left:1164px;top:28px;width:1px;height:554px"></div>
<div class="bk" style="left:1px;top:425px;width:1164px;height:1px"></div>
<div class="a" style="left:0;top:426px;width:1166px;height:1px;background:#fff"></div>
<div class="bk" style="left:1px;top:427px;width:1164px;height:1px"></div>
<div class="bk" style="left:1px;top:495px;width:1164px;height:1px"></div>
<div class="a" style="left:0;top:496px;width:1166px;height:1px;background:#fff"></div>
<div class="bk" style="left:1px;top:497px;width:1164px;height:1px"></div>
<div class="bk" style="left:1px;top:581px;width:1164px;height:1px"></div>
<svg class="a" style="left:5px;top:34px" width="8" height="6"><polygon points="0,5 3.5,0.8 7,5" fill="#000"/></svg>
<div class="t l" style="left:17px;top:32.7px">USDCAD,Daily</div>
<div class="t" style="left:89px;top:32.7px">1.33324</div>
<div class="t" style="left:125px;top:32.7px">1.33398</div>
<div class="t" style="left:161px;top:32.7px">1.33257</div>
<div class="t" style="left:197px;top:32.7px">1.33333</div>
<div class="t" style="left:6.5px;top:433.3px"><span class="l">MACD</span>(12,26,9)</div>
<div class="t" style="left:75.5px;top:433.3px">-0.000030</div>
<div class="t" style="left:119.5px;top:433.3px">0.000568</div>
<div class="t" style="left:6px;top:503.3px"><span class="l">RSI</span>(14)</div>
<div class="t" style="left:41px;top:503.3px">48.0122</div>
<div class="tk" style="top:59px"></div><div class="ax" style="top:55.7px">1.36460</div>
<div class="tk" style="top:92px"></div><div class="ax" style="top:88.7px">1.35920</div>
<div class="tk" style="top:125px"></div><div class="ax" style="top:121.7px">1.35380</div>
<div class="tk" style="top:158px"></div><div class="ax" style="top:154.7px">1.34855</div>
<div class="tk" style="top:191px"></div><div class="ax" style="top:187.7px">1.34315</div>
<div class="tk" style="top:224px"></div><div class="ax" style="top:220.7px">1.33775</div>
<div class="tk" style="top:257px"></div><div class="ax" style="top:253.7px">1.33235</div>
<div class="tk" style="top:290px"></div><div class="ax" style="top:286.7px">1.32710</div>
<div class="tk" style="top:323px"></div><div class="ax" style="top:319.7px">1.32170</div>
<div class="tk" style="top:356px"></div><div class="ax" style="top:352.7px">1.31630</div>
<div class="tk" style="top:389px"></div><div class="ax" style="top:385.7px">1.31090</div>
<div class="tk" style="top:422px"></div><div class="ax" style="top:418.7px">1.30565</div>
<div class="a" style="left:1166px;top:246px;width:41px;height:11px;background:#000"></div>
<div class="ax" style="top:247.7px;color:#fff;-webkit-text-stroke:0.25px #fff">1.33333</div>
<div class="tk" style="top:429px;width:1px"></div><div class="ax" style="left:1168px;top:430.7px">0.010525</div>
<div class="tk" style="top:467px;width:1px"></div><div class="ax" style="left:1168px;top:463.5px">0.00</div>
<div class="tk" style="top:494px;width:1px"></div><div class="ax" style="left:1168px;top:484.6px">-0.0073</div>
<div class="tk" style="top:499px;width:1px"></div><div class="ax" style="left:1168px;top:501.4px">100</div>
<div class="tk" style="top:523px;width:1px"></div><div class="ax" style="left:1168px;top:519.7px">70</div>
<div class="tk" style="top:556px;width:1px"></div><div class="ax" style="left:1168px;top:552.6px">30</div>
<div class="tk" style="top:580px;width:1px"></div><div class="ax" style="left:1168px;top:571.0px">0</div>
<div class="bk" style="left:2px;top:582px;width:1px;height:3px"></div><div class="t" style="left:0.5px;top:586.5px;letter-spacing:-0.22px">1 Dec 2018</div>
<div class="bk" style="left:66px;top:582px;width:1px;height:3px"></div><div class="t" style="left:64.5px;top:586.5px;letter-spacing:-0.22px">11 Dec 2018</div>
<div class="bk" style="left:130px;top:582px;width:1px;height:3px"></div><div class="t" style="left:128.5px;top:586.5px;letter-spacing:-0.22px">20 Dec 2018</div>
<div class="bk" style="left:194px;top:582px;width:1px;height:3px"></div><div class="t" style="left:192.5px;top:586.5px;letter-spacing:-0.22px">29 Dec 2018</div>
<div class="bk" style="left:258px;top:582px;width:1px;height:3px"></div><div class="t" style="left:256.5px;top:586.5px;letter-spacing:-0.22px">8 Jan 2019</div>
<div class="bk" style="left:322px;top:582px;width:1px;height:3px"></div><div class="t" style="left:320.5px;top:586.5px;letter-spacing:-0.22px">17 Jan 2019</div>
<div class="bk" style="left:386px;top:582px;width:1px;height:3px"></div><div class="t" style="left:384.5px;top:586.5px;letter-spacing:-0.22px">26 Jan 2019</div>
<div class="bk" style="left:450px;top:582px;width:1px;height:3px"></div><div class="t" style="left:448.5px;top:586.5px;letter-spacing:-0.22px">5 Feb 2019</div>
<div class="bk" style="left:514px;top:582px;width:1px;height:3px"></div><div class="t" style="left:512.5px;top:586.5px;letter-spacing:-0.22px">14 Feb 2019</div>
<div class="bk" style="left:578px;top:582px;width:1px;height:3px"></div><div class="t" style="left:576.5px;top:586.5px;letter-spacing:-0.22px">23 Feb 2019</div>
<div class="bk" style="left:642px;top:582px;width:1px;height:3px"></div><div class="t" style="left:640.5px;top:586.5px;letter-spacing:-0.22px">5 Mar 2019</div>
<div class="bk" style="left:706px;top:582px;width:1px;height:3px"></div><div class="t" style="left:704.5px;top:586.5px;letter-spacing:-0.22px">14 Mar 2019</div>
<div class="bk" style="left:770px;top:582px;width:1px;height:3px"></div><div class="t" style="left:768.5px;top:586.5px;letter-spacing:-0.22px">23 Mar 2019</div>
<div class="bk" style="left:834px;top:582px;width:1px;height:3px"></div><div class="t" style="left:832.5px;top:586.5px;letter-spacing:-0.22px">2 Apr 2019</div>
<div class="bk" style="left:898px;top:582px;width:1px;height:3px"></div><div class="t" style="left:896.5px;top:586.5px;letter-spacing:-0.22px">11 Apr 2019</div>
<div class="a" style="left:3px;top:46px;width:223px;height:68px;background:#fff"></div>
<div class="a" style="left:5px;top:48px;width:219px;height:64px;">
<div class="a" style="left:0;top:0;width:52px;height:24px;background:linear-gradient(#5858ff,#3c3ce2);border:1px solid #0a0ab8;border-bottom:none;box-sizing:border-box"></div>
<div class="a" style="left:167px;top:0;width:52px;height:24px;background:linear-gradient(#5858ff,#3c3ce2);border:1px solid #0a0ab8;border-bottom:none;box-sizing:border-box"></div>
<div class="a" style="left:0;top:24px;width:109px;height:40px;background:linear-gradient(#3a3ae0,#0000a8);border:1px solid #0000a4;border-top:none;box-sizing:border-box"></div>
<div class="a" style="left:111px;top:24px;width:108px;height:40px;background:linear-gradient(#3a3ae0,#0000a8);border:1px solid #0000a4;border-top:none;box-sizing:border-box"></div><div class="a" style="left:52px;top:24px;width:57px;height:1px;background:#0000a4"></div><div class="a" style="left:111px;top:24px;width:56px;height:1px;background:#0000a4"></div>
<div class="a" style="left:109px;top:24px;width:2px;height:40px;background:#fff"></div>
<div class="a" style="left:4px;top:23px;width:44px;height:1px;background:#1818ac"></div><div class="a" style="left:4px;top:24px;width:44px;height:1px;background:#8484f8"></div>
<div class="a" style="left:171px;top:23px;width:44px;height:1px;background:#1818ac"></div><div class="a" style="left:171px;top:24px;width:44px;height:1px;background:#8484f8"></div>
<div class="a" style="left:52px;top:0;width:115px;height:24px;background:#fff"></div>
<div class="a" style="left:54px;top:1px;width:111px;height:21px;border:1px solid #a8a8a8;background:#fff;box-sizing:border-box"></div>
<div class="a" style="left:55px;top:2px;width:20px;height:19px;background:linear-gradient(#f2f2f2 0%,#eaeaea 48%,#d8d8d8 52%,#d0d0d0 100%)"></div>
<div class="a" style="left:75px;top:2px;width:1px;height:19px;background:#a8a8a8"></div>
<div class="a" style="left:144px;top:2px;width:20px;height:19px;background:linear-gradient(#f2f2f2 0%,#eaeaea 48%,#d8d8d8 52%,#d0d0d0 100%)"></div>
<div class="a" style="left:143px;top:2px;width:1px;height:19px;background:#a8a8a8"></div>
<svg class="a" style="left:62px;top:9px" width="6" height="4"><polygon points="0,0 5.4,0 2.7,3.2" fill="#4460b0"/></svg>
<svg class="a" style="left:151px;top:8.6px" width="6" height="4"><polygon points="0,3.4 5.4,3.4 2.7,0.2" fill="#4460b0"/></svg>
<div class="a" style="left:76px;top:4.5px;width:64.5px;text-align:right;font-size:12.4px;line-height:15px;color:#000">5.00</div>
<div class="a" style="left:12.5px;top:5px;font-size:12.3px;letter-spacing:-1.25px;line-height:15px;color:#fff">SELL</div>
<div class="a" style="left:180.5px;top:5px;font-size:12.3px;letter-spacing:-0.55px;line-height:15px;color:#fff">BUY</div>
<div class="a" style="left:20px;top:44.5px;font-size:13px;font-weight:bold;letter-spacing:-0.35px;color:#fff;line-height:12px">1.33</div>

<div class="a" style="left:87.5px;top:29.5px;font-size:12.5px;font-weight:bold;color:#fff;line-height:12px">3</div>
<div class="a" style="left:130px;top:44.5px;font-size:13px;font-weight:bold;letter-spacing:-0.35px;color:#fff;line-height:12px">1.33</div>
<svg class="a" style="left:0;top:24px" width="219" height="40"><defs><linearGradient id="pg" gradientUnits="userSpaceOnUse" x1="0" y1="0" x2="0" y2="40"><stop offset="0" stop-color="#3a3ae0"/><stop offset="1" stop-color="#0000a8"/></linearGradient></defs>
<g font-family="Liberation Sans" font-size="35" fill="#fff" stroke="url(#pg)" stroke-width="0.75" letter-spacing="-1.8" text-rendering="geometricPrecision"><text x="47.2" y="31.3">33</text><text x="157.4" y="31.3">35</text></g></svg>
<div class="a" style="left:198.5px;top:29.5px;font-size:12.5px;font-weight:bold;color:#fff;line-height:12px">3</div>
</div>
<div class="a" style="left:0;top:602px;width:1210px;height:1px;background:#e2e2e2"></div>
<div class="a" style="left:0;top:604px;width:1210px;height:25px;background:#f0f0f0"></div>
<div class="a" style="left:0;top:604px;width:1210px;height:1px;background:#000"></div>
<div class="a" style="left:0;top:605px;width:1210px;height:1px;background:#fcfcfc"></div>
<div class="a" style="left:0;top:624px;width:1210px;height:2px;background:#fafafa"></div><div class="a" style="left:0;top:626px;width:1210px;height:1px;background:#dedede"></div><div class="a" style="left:0;top:627px;width:1210px;height:1px;background:#a8a8a8"></div><div class="a" style="left:0;top:628px;width:1210px;height:1px;background:#8c8c8c"></div>
<div class="a" style="left:310px;top:605px;width:1px;height:18px;background:#fff"></div><div class="a" style="left:311px;top:604px;width:104px;height:19px;background:#fff;border:1px solid #000;border-top:none;box-sizing:border-box"></div>
<div class="sep" style="left:107px"></div>
<div class="sep" style="left:211px"></div>
<div class="sep" style="left:519px"></div>
<div class="sep" style="left:616px"></div>
<div class="sep" style="left:707px"></div>
<div class="sep" style="left:811px"></div>
<div class="sep" style="left:899px"></div>
<div class="sep" style="left:1003px"></div>
<div class="sep" style="left:1071px"></div>
<div class="sep" style="left:1163px"></div>
<div class="tab" style="left:15.0px;color:#555;letter-spacing:0.00px">EURUSD,Daily</div>
<div class="tab" style="left:117.5px;color:#555;letter-spacing:0.10px">AUDUSD,Daily</div>
<div class="tab" style="left:220.3px;color:#555;letter-spacing:0.10px">USDCHF,Daily</div>
<div class="tab" style="left:322.0px;color:#000;letter-spacing:0.00px">USDCAD,Daily</div>
<div class="tab" style="left:424.6px;color:#555;letter-spacing:0.25px">USDCNH,Daily</div>
<div class="tab" style="left:528.0px;color:#555;letter-spacing:0.10px">USDJPY,Daily</div>
<div class="tab" style="left:624.8px;color:#555;letter-spacing:0.30px">XAUUSD,H4</div>
<div class="tab" style="left:718.3px;color:#555;letter-spacing:0.00px">GBPUSD,Daily</div>
<div class="tab" style="left:822.0px;color:#555;letter-spacing:0.40px">SP500,M15</div>
<div class="tab" style="left:910.3px;color:#555;letter-spacing:0.00px">GBPUSD,Daily</div>
<div class="tab" style="left:1011.8px;color:#555;letter-spacing:0.50px">DJ30,H4</div>
<div class="tab" style="left:1080.8px;color:#555;letter-spacing:0.05px">TECH100,H1</div>
<svg class="a" style="left:1180px;top:610px" width="4" height="8"><polygon points="4,0.5 4,7.5 0,4" fill="#a0a0a0"/></svg>
<svg class="a" style="left:1198.5px;top:609.5px" width="4" height="8"><polygon points="0,0 0,8 4,4" fill="#000"/></svg>
</body></html>
